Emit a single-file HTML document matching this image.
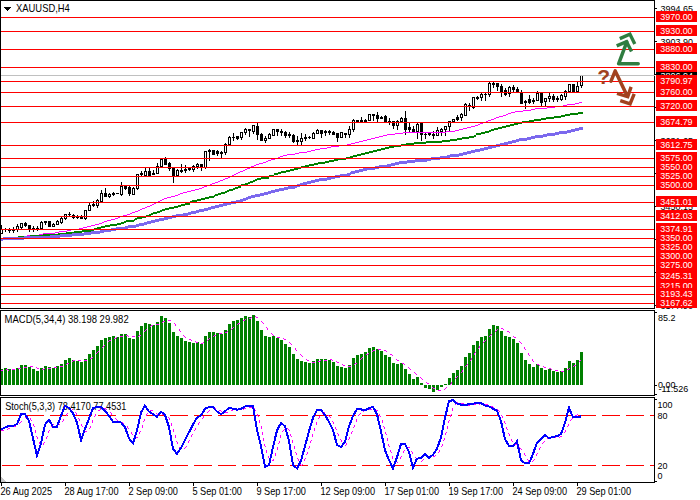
<!DOCTYPE html>
<html><head><meta charset="utf-8"><title>XAUUSD,H4</title>
<style>
html,body{margin:0;padding:0;background:#fff;width:700px;height:500px;overflow:hidden}
svg{display:block}
text{font-family:'Liberation Sans', 'DejaVu Sans', sans-serif;white-space:pre}
rect,polyline,line{shape-rendering:crispEdges}
.aa polyline{shape-rendering:geometricPrecision}
</style></head><body>
<svg width="700" height="500" viewBox="0 0 700 500">
<defs>
<clipPath id="cm"><rect x="1" y="1" width="653" height="307"/></clipPath>
<clipPath id="cmacd"><rect x="1" y="311" width="653" height="84"/></clipPath>
<clipPath id="cst"><rect x="1" y="398" width="653" height="84"/></clipPath>
</defs>
<rect width="700" height="500" fill="#fff"/>
<g clip-path="url(#cm)">
<rect x="1" y="225" width="1" height="9" fill="#000"/>
<rect x="0" y="229" width="3" height="5" fill="#000"/>
<rect x="1" y="230" width="1" height="3" fill="#fff"/>
<rect x="5" y="228" width="1" height="4" fill="#000"/>
<rect x="4" y="229" width="3" height="1" fill="#000"/>
<rect x="9" y="228" width="1" height="5" fill="#000"/>
<rect x="8" y="230" width="3" height="1" fill="#000"/>
<rect x="13" y="227" width="1" height="6" fill="#000"/>
<rect x="12" y="230" width="3" height="1" fill="#000"/>
<rect x="17" y="224" width="1" height="8" fill="#000"/>
<rect x="16" y="226" width="3" height="4" fill="#000"/>
<rect x="17" y="227" width="1" height="2" fill="#fff"/>
<rect x="21" y="223" width="1" height="6" fill="#000"/>
<rect x="20" y="223" width="3" height="5" fill="#000"/>
<rect x="21" y="224" width="1" height="3" fill="#fff"/>
<rect x="25" y="222" width="1" height="5" fill="#000"/>
<rect x="24" y="223" width="3" height="3" fill="#000"/>
<rect x="29" y="225" width="1" height="7" fill="#000"/>
<rect x="28" y="225" width="3" height="5" fill="#000"/>
<rect x="33" y="226" width="1" height="6" fill="#000"/>
<rect x="32" y="228" width="3" height="2" fill="#000"/>
<rect x="37" y="226" width="1" height="5" fill="#000"/>
<rect x="36" y="228" width="3" height="2" fill="#000"/>
<rect x="41" y="221" width="1" height="8" fill="#000"/>
<rect x="40" y="222" width="3" height="7" fill="#000"/>
<rect x="41" y="223" width="1" height="5" fill="#fff"/>
<rect x="45" y="221" width="1" height="4" fill="#000"/>
<rect x="44" y="221" width="3" height="2" fill="#000"/>
<rect x="49" y="221" width="1" height="6" fill="#000"/>
<rect x="48" y="221" width="3" height="6" fill="#000"/>
<rect x="53" y="223" width="1" height="4" fill="#000"/>
<rect x="52" y="224" width="3" height="3" fill="#000"/>
<rect x="53" y="225" width="1" height="1" fill="#fff"/>
<rect x="57" y="220" width="1" height="5" fill="#000"/>
<rect x="56" y="221" width="3" height="4" fill="#000"/>
<rect x="57" y="222" width="1" height="2" fill="#fff"/>
<rect x="61" y="217" width="1" height="7" fill="#000"/>
<rect x="60" y="218" width="3" height="5" fill="#000"/>
<rect x="61" y="219" width="1" height="3" fill="#fff"/>
<rect x="65" y="214" width="1" height="6" fill="#000"/>
<rect x="64" y="214" width="3" height="5" fill="#000"/>
<rect x="65" y="215" width="1" height="3" fill="#fff"/>
<rect x="69" y="212" width="1" height="5" fill="#000"/>
<rect x="68" y="214" width="3" height="1" fill="#000"/>
<rect x="73" y="214" width="1" height="5" fill="#000"/>
<rect x="72" y="215" width="3" height="3" fill="#000"/>
<rect x="77" y="215" width="1" height="4" fill="#000"/>
<rect x="76" y="216" width="3" height="2" fill="#000"/>
<rect x="81" y="215" width="1" height="4" fill="#000"/>
<rect x="80" y="216" width="3" height="3" fill="#000"/>
<rect x="85" y="210" width="1" height="10" fill="#000"/>
<rect x="84" y="210" width="3" height="9" fill="#000"/>
<rect x="85" y="211" width="1" height="7" fill="#fff"/>
<rect x="89" y="203" width="1" height="8" fill="#000"/>
<rect x="88" y="205" width="3" height="6" fill="#000"/>
<rect x="89" y="206" width="1" height="4" fill="#fff"/>
<rect x="93" y="201" width="1" height="6" fill="#000"/>
<rect x="92" y="204" width="3" height="2" fill="#000"/>
<rect x="97" y="199" width="1" height="9" fill="#000"/>
<rect x="96" y="200" width="3" height="6" fill="#000"/>
<rect x="97" y="201" width="1" height="4" fill="#fff"/>
<rect x="101" y="190" width="1" height="13" fill="#000"/>
<rect x="100" y="193" width="3" height="9" fill="#000"/>
<rect x="101" y="194" width="1" height="7" fill="#fff"/>
<rect x="105" y="188" width="1" height="9" fill="#000"/>
<rect x="104" y="193" width="3" height="4" fill="#000"/>
<rect x="109" y="193" width="1" height="5" fill="#000"/>
<rect x="108" y="194" width="3" height="3" fill="#000"/>
<rect x="109" y="195" width="1" height="1" fill="#fff"/>
<rect x="113" y="192" width="1" height="4" fill="#000"/>
<rect x="112" y="193" width="3" height="2" fill="#000"/>
<rect x="117" y="193" width="1" height="1" fill="#000"/>
<rect x="116" y="193" width="3" height="1" fill="#000"/>
<rect x="121" y="182" width="1" height="14" fill="#000"/>
<rect x="120" y="186" width="3" height="9" fill="#000"/>
<rect x="121" y="187" width="1" height="7" fill="#fff"/>
<rect x="125" y="186" width="1" height="4" fill="#000"/>
<rect x="124" y="186" width="3" height="3" fill="#000"/>
<rect x="129" y="186" width="1" height="10" fill="#000"/>
<rect x="128" y="187" width="3" height="7" fill="#000"/>
<rect x="133" y="187" width="1" height="8" fill="#000"/>
<rect x="132" y="188" width="3" height="7" fill="#000"/>
<rect x="133" y="189" width="1" height="5" fill="#fff"/>
<rect x="137" y="174" width="1" height="16" fill="#000"/>
<rect x="136" y="174" width="3" height="15" fill="#000"/>
<rect x="137" y="175" width="1" height="13" fill="#fff"/>
<rect x="141" y="171" width="1" height="6" fill="#000"/>
<rect x="140" y="173" width="3" height="2" fill="#000"/>
<rect x="145" y="168" width="1" height="8" fill="#000"/>
<rect x="144" y="171" width="3" height="5" fill="#000"/>
<rect x="145" y="172" width="1" height="3" fill="#fff"/>
<rect x="149" y="168" width="1" height="9" fill="#000"/>
<rect x="148" y="171" width="3" height="5" fill="#000"/>
<rect x="153" y="170" width="1" height="5" fill="#000"/>
<rect x="152" y="173" width="3" height="2" fill="#000"/>
<rect x="157" y="163" width="1" height="11" fill="#000"/>
<rect x="156" y="166" width="3" height="8" fill="#000"/>
<rect x="157" y="167" width="1" height="6" fill="#fff"/>
<rect x="161" y="159" width="1" height="8" fill="#000"/>
<rect x="160" y="159" width="3" height="8" fill="#000"/>
<rect x="161" y="160" width="1" height="6" fill="#fff"/>
<rect x="165" y="157" width="1" height="8" fill="#000"/>
<rect x="164" y="159" width="3" height="6" fill="#000"/>
<rect x="169" y="162" width="1" height="9" fill="#000"/>
<rect x="168" y="163" width="3" height="6" fill="#000"/>
<rect x="173" y="168" width="1" height="15" fill="#000"/>
<rect x="172" y="168" width="3" height="8" fill="#000"/>
<rect x="177" y="169" width="1" height="7" fill="#000"/>
<rect x="176" y="170" width="3" height="6" fill="#000"/>
<rect x="177" y="171" width="1" height="4" fill="#fff"/>
<rect x="181" y="164" width="1" height="9" fill="#000"/>
<rect x="180" y="170" width="3" height="2" fill="#000"/>
<rect x="185" y="165" width="1" height="8" fill="#000"/>
<rect x="184" y="169" width="3" height="2" fill="#000"/>
<rect x="189" y="167" width="1" height="4" fill="#000"/>
<rect x="188" y="168" width="3" height="2" fill="#000"/>
<rect x="193" y="165" width="1" height="7" fill="#000"/>
<rect x="192" y="166" width="3" height="4" fill="#000"/>
<rect x="193" y="167" width="1" height="2" fill="#fff"/>
<rect x="197" y="163" width="1" height="6" fill="#000"/>
<rect x="196" y="164" width="3" height="3" fill="#000"/>
<rect x="197" y="165" width="1" height="1" fill="#fff"/>
<rect x="201" y="164" width="1" height="7" fill="#000"/>
<rect x="200" y="164" width="3" height="3" fill="#000"/>
<rect x="205" y="151" width="1" height="18" fill="#000"/>
<rect x="204" y="151" width="3" height="17" fill="#000"/>
<rect x="205" y="152" width="1" height="15" fill="#fff"/>
<rect x="209" y="149" width="1" height="12" fill="#000"/>
<rect x="208" y="150" width="3" height="2" fill="#000"/>
<rect x="213" y="150" width="1" height="5" fill="#000"/>
<rect x="212" y="150" width="3" height="5" fill="#000"/>
<rect x="217" y="150" width="1" height="6" fill="#000"/>
<rect x="216" y="151" width="3" height="3" fill="#000"/>
<rect x="221" y="151" width="1" height="7" fill="#000"/>
<rect x="220" y="152" width="3" height="2" fill="#000"/>
<rect x="225" y="143" width="1" height="12" fill="#000"/>
<rect x="224" y="144" width="3" height="9" fill="#000"/>
<rect x="225" y="145" width="1" height="7" fill="#fff"/>
<rect x="229" y="136" width="1" height="10" fill="#000"/>
<rect x="228" y="137" width="3" height="8" fill="#000"/>
<rect x="229" y="138" width="1" height="6" fill="#fff"/>
<rect x="233" y="133" width="1" height="8" fill="#000"/>
<rect x="232" y="137" width="3" height="1" fill="#000"/>
<rect x="237" y="136" width="1" height="4" fill="#000"/>
<rect x="236" y="136" width="3" height="3" fill="#000"/>
<rect x="241" y="132" width="1" height="8" fill="#000"/>
<rect x="240" y="132" width="3" height="6" fill="#000"/>
<rect x="241" y="133" width="1" height="4" fill="#fff"/>
<rect x="245" y="128" width="1" height="7" fill="#000"/>
<rect x="244" y="129" width="3" height="4" fill="#000"/>
<rect x="245" y="130" width="1" height="2" fill="#fff"/>
<rect x="249" y="129" width="1" height="8" fill="#000"/>
<rect x="248" y="129" width="3" height="2" fill="#000"/>
<rect x="253" y="125" width="1" height="9" fill="#000"/>
<rect x="252" y="125" width="3" height="7" fill="#000"/>
<rect x="253" y="126" width="1" height="5" fill="#fff"/>
<rect x="257" y="123" width="1" height="17" fill="#000"/>
<rect x="256" y="126" width="3" height="9" fill="#000"/>
<rect x="261" y="133" width="1" height="8" fill="#000"/>
<rect x="260" y="134" width="3" height="7" fill="#000"/>
<rect x="265" y="136" width="1" height="7" fill="#000"/>
<rect x="264" y="138" width="3" height="3" fill="#000"/>
<rect x="265" y="139" width="1" height="1" fill="#fff"/>
<rect x="269" y="133" width="1" height="6" fill="#000"/>
<rect x="268" y="134" width="3" height="5" fill="#000"/>
<rect x="269" y="135" width="1" height="3" fill="#fff"/>
<rect x="273" y="129" width="1" height="7" fill="#000"/>
<rect x="272" y="129" width="3" height="7" fill="#000"/>
<rect x="273" y="130" width="1" height="5" fill="#fff"/>
<rect x="277" y="129" width="1" height="7" fill="#000"/>
<rect x="276" y="129" width="3" height="3" fill="#000"/>
<rect x="281" y="129" width="1" height="7" fill="#000"/>
<rect x="280" y="131" width="3" height="2" fill="#000"/>
<rect x="285" y="131" width="1" height="7" fill="#000"/>
<rect x="284" y="132" width="3" height="4" fill="#000"/>
<rect x="289" y="132" width="1" height="6" fill="#000"/>
<rect x="288" y="134" width="3" height="2" fill="#000"/>
<rect x="293" y="134" width="1" height="9" fill="#000"/>
<rect x="292" y="135" width="3" height="7" fill="#000"/>
<rect x="297" y="136" width="1" height="10" fill="#000"/>
<rect x="296" y="140" width="3" height="2" fill="#000"/>
<rect x="301" y="133" width="1" height="13" fill="#000"/>
<rect x="300" y="138" width="3" height="4" fill="#000"/>
<rect x="301" y="139" width="1" height="2" fill="#fff"/>
<rect x="305" y="134" width="1" height="7" fill="#000"/>
<rect x="304" y="137" width="3" height="2" fill="#000"/>
<rect x="309" y="136" width="1" height="3" fill="#000"/>
<rect x="308" y="137" width="3" height="1" fill="#000"/>
<rect x="313" y="132" width="1" height="7" fill="#000"/>
<rect x="312" y="133" width="3" height="6" fill="#000"/>
<rect x="313" y="134" width="1" height="4" fill="#fff"/>
<rect x="317" y="129" width="1" height="5" fill="#000"/>
<rect x="316" y="130" width="3" height="4" fill="#000"/>
<rect x="317" y="131" width="1" height="2" fill="#fff"/>
<rect x="321" y="130" width="1" height="8" fill="#000"/>
<rect x="320" y="130" width="3" height="4" fill="#000"/>
<rect x="325" y="130" width="1" height="6" fill="#000"/>
<rect x="324" y="131" width="3" height="2" fill="#000"/>
<rect x="329" y="130" width="1" height="5" fill="#000"/>
<rect x="328" y="131" width="3" height="2" fill="#000"/>
<rect x="333" y="131" width="1" height="4" fill="#000"/>
<rect x="332" y="132" width="3" height="3" fill="#000"/>
<rect x="337" y="133" width="1" height="9" fill="#000"/>
<rect x="336" y="133" width="3" height="5" fill="#000"/>
<rect x="341" y="132" width="1" height="6" fill="#000"/>
<rect x="340" y="132" width="3" height="6" fill="#000"/>
<rect x="341" y="133" width="1" height="4" fill="#fff"/>
<rect x="345" y="133" width="1" height="5" fill="#000"/>
<rect x="344" y="133" width="3" height="2" fill="#000"/>
<rect x="349" y="126" width="1" height="12" fill="#000"/>
<rect x="348" y="129" width="3" height="6" fill="#000"/>
<rect x="349" y="130" width="1" height="4" fill="#fff"/>
<rect x="353" y="119" width="1" height="13" fill="#000"/>
<rect x="352" y="120" width="3" height="10" fill="#000"/>
<rect x="353" y="121" width="1" height="8" fill="#fff"/>
<rect x="357" y="120" width="1" height="3" fill="#000"/>
<rect x="356" y="120" width="3" height="2" fill="#000"/>
<rect x="361" y="117" width="1" height="6" fill="#000"/>
<rect x="360" y="120" width="3" height="2" fill="#000"/>
<rect x="365" y="119" width="1" height="4" fill="#000"/>
<rect x="364" y="120" width="3" height="3" fill="#000"/>
<rect x="369" y="114" width="1" height="7" fill="#000"/>
<rect x="368" y="114" width="3" height="7" fill="#000"/>
<rect x="369" y="115" width="1" height="5" fill="#fff"/>
<rect x="373" y="114" width="1" height="7" fill="#000"/>
<rect x="372" y="114" width="3" height="2" fill="#000"/>
<rect x="377" y="112" width="1" height="11" fill="#000"/>
<rect x="376" y="115" width="3" height="4" fill="#000"/>
<rect x="381" y="116" width="1" height="3" fill="#000"/>
<rect x="380" y="117" width="3" height="2" fill="#000"/>
<rect x="385" y="115" width="1" height="8" fill="#000"/>
<rect x="384" y="116" width="3" height="6" fill="#000"/>
<rect x="389" y="118" width="1" height="7" fill="#000"/>
<rect x="388" y="121" width="3" height="2" fill="#000"/>
<rect x="393" y="121" width="1" height="8" fill="#000"/>
<rect x="392" y="121" width="3" height="5" fill="#000"/>
<rect x="397" y="120" width="1" height="10" fill="#000"/>
<rect x="396" y="121" width="3" height="5" fill="#000"/>
<rect x="397" y="122" width="1" height="3" fill="#fff"/>
<rect x="401" y="117" width="1" height="5" fill="#000"/>
<rect x="400" y="118" width="3" height="4" fill="#000"/>
<rect x="401" y="119" width="1" height="2" fill="#fff"/>
<rect x="405" y="111" width="1" height="24" fill="#000"/>
<rect x="404" y="118" width="3" height="12" fill="#000"/>
<rect x="409" y="123" width="1" height="10" fill="#000"/>
<rect x="408" y="127" width="3" height="3" fill="#000"/>
<rect x="413" y="126" width="1" height="7" fill="#000"/>
<rect x="412" y="129" width="3" height="3" fill="#000"/>
<rect x="417" y="123" width="1" height="16" fill="#000"/>
<rect x="416" y="124" width="3" height="8" fill="#000"/>
<rect x="417" y="125" width="1" height="6" fill="#fff"/>
<rect x="421" y="123" width="1" height="18" fill="#000"/>
<rect x="420" y="123" width="3" height="12" fill="#000"/>
<rect x="425" y="133" width="1" height="6" fill="#000"/>
<rect x="424" y="134" width="3" height="1" fill="#000"/>
<rect x="429" y="133" width="1" height="3" fill="#000"/>
<rect x="428" y="133" width="3" height="2" fill="#000"/>
<rect x="433" y="131" width="1" height="8" fill="#000"/>
<rect x="432" y="134" width="3" height="2" fill="#000"/>
<rect x="437" y="127" width="1" height="9" fill="#000"/>
<rect x="436" y="130" width="3" height="6" fill="#000"/>
<rect x="437" y="131" width="1" height="4" fill="#fff"/>
<rect x="441" y="128" width="1" height="8" fill="#000"/>
<rect x="440" y="129" width="3" height="3" fill="#000"/>
<rect x="441" y="130" width="1" height="1" fill="#fff"/>
<rect x="445" y="126" width="1" height="10" fill="#000"/>
<rect x="444" y="126" width="3" height="4" fill="#000"/>
<rect x="445" y="127" width="1" height="2" fill="#fff"/>
<rect x="449" y="121" width="1" height="10" fill="#000"/>
<rect x="448" y="121" width="3" height="6" fill="#000"/>
<rect x="449" y="122" width="1" height="4" fill="#fff"/>
<rect x="453" y="119" width="1" height="4" fill="#000"/>
<rect x="452" y="119" width="3" height="3" fill="#000"/>
<rect x="453" y="120" width="1" height="1" fill="#fff"/>
<rect x="457" y="115" width="1" height="6" fill="#000"/>
<rect x="456" y="117" width="3" height="3" fill="#000"/>
<rect x="461" y="113" width="1" height="8" fill="#000"/>
<rect x="460" y="114" width="3" height="4" fill="#000"/>
<rect x="461" y="115" width="1" height="2" fill="#fff"/>
<rect x="465" y="103" width="1" height="13" fill="#000"/>
<rect x="464" y="104" width="3" height="12" fill="#000"/>
<rect x="465" y="105" width="1" height="10" fill="#fff"/>
<rect x="469" y="103" width="1" height="8" fill="#000"/>
<rect x="468" y="105" width="3" height="2" fill="#000"/>
<rect x="473" y="97" width="1" height="12" fill="#000"/>
<rect x="472" y="97" width="3" height="11" fill="#000"/>
<rect x="473" y="98" width="1" height="9" fill="#fff"/>
<rect x="477" y="96" width="1" height="4" fill="#000"/>
<rect x="476" y="97" width="3" height="2" fill="#000"/>
<rect x="481" y="93" width="1" height="8" fill="#000"/>
<rect x="480" y="94" width="3" height="4" fill="#000"/>
<rect x="481" y="95" width="1" height="2" fill="#fff"/>
<rect x="485" y="93" width="1" height="8" fill="#000"/>
<rect x="484" y="94" width="3" height="1" fill="#000"/>
<rect x="489" y="82" width="1" height="15" fill="#000"/>
<rect x="488" y="83" width="3" height="12" fill="#000"/>
<rect x="489" y="84" width="1" height="10" fill="#fff"/>
<rect x="493" y="82" width="1" height="6" fill="#000"/>
<rect x="492" y="83" width="3" height="2" fill="#000"/>
<rect x="497" y="83" width="1" height="8" fill="#000"/>
<rect x="496" y="83" width="3" height="4" fill="#000"/>
<rect x="501" y="84" width="1" height="13" fill="#000"/>
<rect x="500" y="86" width="3" height="7" fill="#000"/>
<rect x="505" y="88" width="1" height="8" fill="#000"/>
<rect x="504" y="90" width="3" height="5" fill="#000"/>
<rect x="509" y="86" width="1" height="11" fill="#000"/>
<rect x="508" y="87" width="3" height="7" fill="#000"/>
<rect x="509" y="88" width="1" height="5" fill="#fff"/>
<rect x="513" y="85" width="1" height="8" fill="#000"/>
<rect x="512" y="87" width="3" height="3" fill="#000"/>
<rect x="517" y="87" width="1" height="6" fill="#000"/>
<rect x="516" y="89" width="3" height="3" fill="#000"/>
<rect x="521" y="90" width="1" height="14" fill="#000"/>
<rect x="520" y="93" width="3" height="11" fill="#000"/>
<rect x="525" y="100" width="1" height="9" fill="#000"/>
<rect x="524" y="101" width="3" height="2" fill="#000"/>
<rect x="529" y="95" width="1" height="9" fill="#000"/>
<rect x="528" y="99" width="3" height="4" fill="#000"/>
<rect x="533" y="98" width="1" height="6" fill="#000"/>
<rect x="532" y="100" width="3" height="2" fill="#000"/>
<rect x="537" y="91" width="1" height="10" fill="#000"/>
<rect x="536" y="93" width="3" height="8" fill="#000"/>
<rect x="537" y="94" width="1" height="6" fill="#fff"/>
<rect x="541" y="93" width="1" height="14" fill="#000"/>
<rect x="540" y="93" width="3" height="10" fill="#000"/>
<rect x="545" y="98" width="1" height="9" fill="#000"/>
<rect x="544" y="98" width="3" height="4" fill="#000"/>
<rect x="545" y="99" width="1" height="2" fill="#fff"/>
<rect x="549" y="93" width="1" height="9" fill="#000"/>
<rect x="548" y="96" width="3" height="3" fill="#000"/>
<rect x="549" y="97" width="1" height="1" fill="#fff"/>
<rect x="553" y="94" width="1" height="8" fill="#000"/>
<rect x="552" y="96" width="3" height="4" fill="#000"/>
<rect x="557" y="96" width="1" height="6" fill="#000"/>
<rect x="556" y="98" width="3" height="2" fill="#000"/>
<rect x="561" y="94" width="1" height="7" fill="#000"/>
<rect x="560" y="95" width="3" height="5" fill="#000"/>
<rect x="561" y="96" width="1" height="3" fill="#fff"/>
<rect x="565" y="90" width="1" height="10" fill="#000"/>
<rect x="564" y="91" width="3" height="6" fill="#000"/>
<rect x="565" y="92" width="1" height="4" fill="#fff"/>
<rect x="569" y="84" width="1" height="9" fill="#000"/>
<rect x="568" y="84" width="3" height="8" fill="#000"/>
<rect x="569" y="85" width="1" height="6" fill="#fff"/>
<rect x="573" y="84" width="1" height="8" fill="#000"/>
<rect x="572" y="84" width="3" height="8" fill="#000"/>
<rect x="577" y="82" width="1" height="10" fill="#000"/>
<rect x="576" y="86" width="3" height="6" fill="#000"/>
<rect x="577" y="87" width="1" height="4" fill="#fff"/>
<rect x="581" y="75" width="1" height="13" fill="#000"/>
<rect x="580" y="75" width="3" height="11" fill="#000"/>
<rect x="581" y="76" width="1" height="9" fill="#fff"/>
<rect x="3" y="237" width="22" height="1" fill="#FF00FF"/>
<rect x="25" y="236" width="2" height="1" fill="#FF00FF"/>
<rect x="27" y="235" width="12" height="1" fill="#FF00FF"/>
<rect x="39" y="234" width="4" height="1" fill="#FF00FF"/>
<rect x="43" y="233" width="12" height="1" fill="#FF00FF"/>
<rect x="55" y="232" width="4" height="1" fill="#FF00FF"/>
<rect x="59" y="231" width="8" height="1" fill="#FF00FF"/>
<rect x="67" y="230" width="4" height="1" fill="#FF00FF"/>
<rect x="71" y="229" width="8" height="1" fill="#FF00FF"/>
<rect x="79" y="228" width="4" height="1" fill="#FF00FF"/>
<rect x="83" y="227" width="4" height="1" fill="#FF00FF"/>
<rect x="87" y="226" width="4" height="1" fill="#FF00FF"/>
<rect x="91" y="225" width="4" height="1" fill="#FF00FF"/>
<rect x="95" y="224" width="4" height="1" fill="#FF00FF"/>
<rect x="99" y="223" width="3" height="1" fill="#FF00FF"/>
<rect x="102" y="222" width="2" height="1" fill="#FF00FF"/>
<rect x="104" y="221" width="3" height="1" fill="#FF00FF"/>
<rect x="107" y="220" width="4" height="1" fill="#FF00FF"/>
<rect x="111" y="219" width="4" height="1" fill="#FF00FF"/>
<rect x="115" y="218" width="3" height="1" fill="#FF00FF"/>
<rect x="118" y="217" width="2" height="1" fill="#FF00FF"/>
<rect x="120" y="216" width="3" height="1" fill="#FF00FF"/>
<rect x="123" y="215" width="4" height="1" fill="#FF00FF"/>
<rect x="127" y="214" width="3" height="1" fill="#FF00FF"/>
<rect x="130" y="213" width="2" height="1" fill="#FF00FF"/>
<rect x="132" y="212" width="3" height="1" fill="#FF00FF"/>
<rect x="135" y="211" width="3" height="1" fill="#FF00FF"/>
<rect x="138" y="210" width="2" height="1" fill="#FF00FF"/>
<rect x="140" y="209" width="2" height="1" fill="#FF00FF"/>
<rect x="142" y="208" width="3" height="1" fill="#FF00FF"/>
<rect x="145" y="207" width="2" height="1" fill="#FF00FF"/>
<rect x="147" y="206" width="3" height="1" fill="#FF00FF"/>
<rect x="150" y="205" width="2" height="1" fill="#FF00FF"/>
<rect x="152" y="204" width="2" height="1" fill="#FF00FF"/>
<rect x="154" y="203" width="2" height="1" fill="#FF00FF"/>
<rect x="156" y="202" width="2" height="1" fill="#FF00FF"/>
<rect x="158" y="201" width="2" height="1" fill="#FF00FF"/>
<rect x="160" y="200" width="2" height="1" fill="#FF00FF"/>
<rect x="162" y="199" width="2" height="1" fill="#FF00FF"/>
<rect x="164" y="198" width="3" height="1" fill="#FF00FF"/>
<rect x="167" y="197" width="4" height="1" fill="#FF00FF"/>
<rect x="171" y="196" width="4" height="1" fill="#FF00FF"/>
<rect x="175" y="195" width="3" height="1" fill="#FF00FF"/>
<rect x="178" y="194" width="2" height="1" fill="#FF00FF"/>
<rect x="180" y="193" width="3" height="1" fill="#FF00FF"/>
<rect x="183" y="192" width="4" height="1" fill="#FF00FF"/>
<rect x="187" y="191" width="4" height="1" fill="#FF00FF"/>
<rect x="191" y="190" width="4" height="1" fill="#FF00FF"/>
<rect x="195" y="189" width="4" height="1" fill="#FF00FF"/>
<rect x="199" y="188" width="3" height="1" fill="#FF00FF"/>
<rect x="202" y="187" width="2" height="1" fill="#FF00FF"/>
<rect x="204" y="186" width="3" height="1" fill="#FF00FF"/>
<rect x="207" y="185" width="3" height="1" fill="#FF00FF"/>
<rect x="210" y="184" width="2" height="1" fill="#FF00FF"/>
<rect x="212" y="183" width="3" height="1" fill="#FF00FF"/>
<rect x="215" y="182" width="3" height="1" fill="#FF00FF"/>
<rect x="218" y="181" width="2" height="1" fill="#FF00FF"/>
<rect x="220" y="180" width="3" height="1" fill="#FF00FF"/>
<rect x="223" y="179" width="2" height="1" fill="#FF00FF"/>
<rect x="225" y="178" width="3" height="1" fill="#FF00FF"/>
<rect x="228" y="177" width="2" height="1" fill="#FF00FF"/>
<rect x="230" y="176" width="2" height="1" fill="#FF00FF"/>
<rect x="232" y="175" width="2" height="1" fill="#FF00FF"/>
<rect x="234" y="174" width="2" height="1" fill="#FF00FF"/>
<rect x="236" y="173" width="2" height="1" fill="#FF00FF"/>
<rect x="238" y="172" width="2" height="1" fill="#FF00FF"/>
<rect x="240" y="171" width="3" height="1" fill="#FF00FF"/>
<rect x="243" y="170" width="2" height="1" fill="#FF00FF"/>
<rect x="245" y="169" width="2" height="1" fill="#FF00FF"/>
<rect x="247" y="168" width="3" height="1" fill="#FF00FF"/>
<rect x="250" y="167" width="1" height="1" fill="#FF00FF"/>
<rect x="251" y="166" width="3" height="1" fill="#FF00FF"/>
<rect x="254" y="165" width="2" height="1" fill="#FF00FF"/>
<rect x="256" y="164" width="3" height="1" fill="#FF00FF"/>
<rect x="259" y="163" width="4" height="1" fill="#FF00FF"/>
<rect x="263" y="162" width="3" height="1" fill="#FF00FF"/>
<rect x="266" y="161" width="2" height="1" fill="#FF00FF"/>
<rect x="268" y="160" width="3" height="1" fill="#FF00FF"/>
<rect x="271" y="159" width="4" height="1" fill="#FF00FF"/>
<rect x="275" y="158" width="3" height="1" fill="#FF00FF"/>
<rect x="278" y="157" width="2" height="1" fill="#FF00FF"/>
<rect x="280" y="156" width="3" height="1" fill="#FF00FF"/>
<rect x="283" y="155" width="4" height="1" fill="#FF00FF"/>
<rect x="287" y="154" width="8" height="1" fill="#FF00FF"/>
<rect x="295" y="153" width="4" height="1" fill="#FF00FF"/>
<rect x="299" y="152" width="8" height="1" fill="#FF00FF"/>
<rect x="307" y="151" width="4" height="1" fill="#FF00FF"/>
<rect x="311" y="150" width="4" height="1" fill="#FF00FF"/>
<rect x="315" y="149" width="5" height="1" fill="#FF00FF"/>
<rect x="320" y="148" width="7" height="1" fill="#FF00FF"/>
<rect x="327" y="147" width="4" height="1" fill="#FF00FF"/>
<rect x="331" y="146" width="8" height="1" fill="#FF00FF"/>
<rect x="339" y="145" width="8" height="1" fill="#FF00FF"/>
<rect x="347" y="144" width="4" height="1" fill="#FF00FF"/>
<rect x="351" y="143" width="4" height="1" fill="#FF00FF"/>
<rect x="355" y="142" width="4" height="1" fill="#FF00FF"/>
<rect x="359" y="141" width="4" height="1" fill="#FF00FF"/>
<rect x="363" y="140" width="4" height="1" fill="#FF00FF"/>
<rect x="367" y="139" width="4" height="1" fill="#FF00FF"/>
<rect x="371" y="138" width="4" height="1" fill="#FF00FF"/>
<rect x="375" y="137" width="4" height="1" fill="#FF00FF"/>
<rect x="379" y="136" width="4" height="1" fill="#FF00FF"/>
<rect x="383" y="135" width="4" height="1" fill="#FF00FF"/>
<rect x="387" y="134" width="8" height="1" fill="#FF00FF"/>
<rect x="395" y="133" width="8" height="1" fill="#FF00FF"/>
<rect x="403" y="132" width="43" height="1" fill="#FF00FF"/>
<rect x="446" y="131" width="9" height="1" fill="#FF00FF"/>
<rect x="455" y="130" width="4" height="1" fill="#FF00FF"/>
<rect x="459" y="129" width="4" height="1" fill="#FF00FF"/>
<rect x="463" y="128" width="4" height="1" fill="#FF00FF"/>
<rect x="467" y="127" width="4" height="1" fill="#FF00FF"/>
<rect x="471" y="126" width="4" height="1" fill="#FF00FF"/>
<rect x="475" y="125" width="3" height="1" fill="#FF00FF"/>
<rect x="478" y="124" width="2" height="1" fill="#FF00FF"/>
<rect x="480" y="123" width="3" height="1" fill="#FF00FF"/>
<rect x="483" y="122" width="3" height="1" fill="#FF00FF"/>
<rect x="486" y="121" width="2" height="1" fill="#FF00FF"/>
<rect x="488" y="120" width="3" height="1" fill="#FF00FF"/>
<rect x="491" y="119" width="3" height="1" fill="#FF00FF"/>
<rect x="494" y="118" width="2" height="1" fill="#FF00FF"/>
<rect x="496" y="117" width="3" height="1" fill="#FF00FF"/>
<rect x="499" y="116" width="4" height="1" fill="#FF00FF"/>
<rect x="503" y="115" width="3" height="1" fill="#FF00FF"/>
<rect x="506" y="114" width="2" height="1" fill="#FF00FF"/>
<rect x="508" y="113" width="3" height="1" fill="#FF00FF"/>
<rect x="511" y="112" width="4" height="1" fill="#FF00FF"/>
<rect x="515" y="111" width="8" height="1" fill="#FF00FF"/>
<rect x="523" y="110" width="8" height="1" fill="#FF00FF"/>
<rect x="531" y="109" width="4" height="1" fill="#FF00FF"/>
<rect x="535" y="108" width="12" height="1" fill="#FF00FF"/>
<rect x="547" y="107" width="8" height="1" fill="#FF00FF"/>
<rect x="555" y="106" width="8" height="1" fill="#FF00FF"/>
<rect x="563" y="105" width="4" height="1" fill="#FF00FF"/>
<rect x="567" y="104" width="8" height="1" fill="#FF00FF"/>
<rect x="575" y="103" width="4" height="1" fill="#FF00FF"/>
<rect x="579" y="102" width="3" height="1" fill="#FF00FF"/>
<rect x="3" y="237" width="15" height="2" fill="#008000"/>
<rect x="18" y="236" width="12" height="2" fill="#008000"/>
<rect x="30" y="235" width="13" height="2" fill="#008000"/>
<rect x="43" y="234" width="15" height="2" fill="#008000"/>
<rect x="58" y="233" width="8" height="2" fill="#008000"/>
<rect x="66" y="232" width="8" height="2" fill="#008000"/>
<rect x="74" y="231" width="8" height="2" fill="#008000"/>
<rect x="82" y="230" width="12" height="2" fill="#008000"/>
<rect x="94" y="228" width="3" height="2" fill="#008000"/>
<rect x="97" y="227" width="4" height="2" fill="#008000"/>
<rect x="101" y="226" width="4" height="2" fill="#008000"/>
<rect x="105" y="225" width="5" height="2" fill="#008000"/>
<rect x="110" y="224" width="7" height="2" fill="#008000"/>
<rect x="117" y="223" width="4" height="2" fill="#008000"/>
<rect x="121" y="222" width="3" height="2" fill="#008000"/>
<rect x="124" y="221" width="2" height="2" fill="#008000"/>
<rect x="126" y="220" width="8" height="2" fill="#008000"/>
<rect x="134" y="219" width="1" height="2" fill="#008000"/>
<rect x="135" y="218" width="2" height="2" fill="#008000"/>
<rect x="137" y="217" width="5" height="2" fill="#008000"/>
<rect x="142" y="216" width="4" height="2" fill="#008000"/>
<rect x="146" y="215" width="3" height="2" fill="#008000"/>
<rect x="149" y="214" width="2" height="2" fill="#008000"/>
<rect x="151" y="213" width="2" height="2" fill="#008000"/>
<rect x="153" y="212" width="4" height="2" fill="#008000"/>
<rect x="157" y="211" width="3" height="2" fill="#008000"/>
<rect x="160" y="210" width="2" height="2" fill="#008000"/>
<rect x="162" y="209" width="3" height="2" fill="#008000"/>
<rect x="165" y="208" width="4" height="2" fill="#008000"/>
<rect x="169" y="207" width="5" height="2" fill="#008000"/>
<rect x="174" y="206" width="4" height="2" fill="#008000"/>
<rect x="178" y="205" width="3" height="2" fill="#008000"/>
<rect x="181" y="204" width="4" height="2" fill="#008000"/>
<rect x="185" y="203" width="5" height="2" fill="#008000"/>
<rect x="190" y="201" width="2" height="2" fill="#008000"/>
<rect x="192" y="200" width="5" height="2" fill="#008000"/>
<rect x="197" y="199" width="4" height="2" fill="#008000"/>
<rect x="201" y="198" width="4" height="2" fill="#008000"/>
<rect x="205" y="197" width="4" height="2" fill="#008000"/>
<rect x="209" y="196" width="5" height="2" fill="#008000"/>
<rect x="214" y="195" width="1" height="2" fill="#008000"/>
<rect x="215" y="194" width="3" height="2" fill="#008000"/>
<rect x="218" y="193" width="3" height="2" fill="#008000"/>
<rect x="221" y="192" width="4" height="2" fill="#008000"/>
<rect x="225" y="191" width="2" height="2" fill="#008000"/>
<rect x="227" y="190" width="2" height="2" fill="#008000"/>
<rect x="229" y="189" width="4" height="2" fill="#008000"/>
<rect x="233" y="188" width="2" height="2" fill="#008000"/>
<rect x="235" y="187" width="3" height="2" fill="#008000"/>
<rect x="238" y="186" width="3" height="2" fill="#008000"/>
<rect x="241" y="184" width="4" height="2" fill="#008000"/>
<rect x="245" y="183" width="3" height="2" fill="#008000"/>
<rect x="248" y="182" width="2" height="2" fill="#008000"/>
<rect x="250" y="181" width="3" height="2" fill="#008000"/>
<rect x="253" y="180" width="2" height="2" fill="#008000"/>
<rect x="255" y="179" width="2" height="2" fill="#008000"/>
<rect x="257" y="178" width="4" height="2" fill="#008000"/>
<rect x="261" y="177" width="8" height="2" fill="#008000"/>
<rect x="269" y="175" width="5" height="2" fill="#008000"/>
<rect x="274" y="173" width="4" height="2" fill="#008000"/>
<rect x="278" y="172" width="3" height="2" fill="#008000"/>
<rect x="281" y="171" width="5" height="2" fill="#008000"/>
<rect x="286" y="170" width="4" height="2" fill="#008000"/>
<rect x="290" y="169" width="4" height="2" fill="#008000"/>
<rect x="294" y="168" width="4" height="2" fill="#008000"/>
<rect x="298" y="167" width="3" height="2" fill="#008000"/>
<rect x="301" y="166" width="4" height="2" fill="#008000"/>
<rect x="305" y="165" width="4" height="2" fill="#008000"/>
<rect x="309" y="164" width="5" height="2" fill="#008000"/>
<rect x="314" y="163" width="4" height="2" fill="#008000"/>
<rect x="318" y="162" width="7" height="2" fill="#008000"/>
<rect x="325" y="161" width="4" height="2" fill="#008000"/>
<rect x="329" y="160" width="5" height="2" fill="#008000"/>
<rect x="334" y="159" width="4" height="2" fill="#008000"/>
<rect x="338" y="158" width="8" height="2" fill="#008000"/>
<rect x="346" y="157" width="4" height="2" fill="#008000"/>
<rect x="350" y="156" width="3" height="2" fill="#008000"/>
<rect x="353" y="155" width="4" height="2" fill="#008000"/>
<rect x="357" y="154" width="4" height="2" fill="#008000"/>
<rect x="361" y="153" width="4" height="2" fill="#008000"/>
<rect x="365" y="152" width="4" height="2" fill="#008000"/>
<rect x="369" y="151" width="4" height="2" fill="#008000"/>
<rect x="373" y="150" width="4" height="2" fill="#008000"/>
<rect x="377" y="149" width="4" height="2" fill="#008000"/>
<rect x="381" y="148" width="4" height="2" fill="#008000"/>
<rect x="385" y="147" width="4" height="2" fill="#008000"/>
<rect x="389" y="146" width="5" height="2" fill="#008000"/>
<rect x="394" y="145" width="7" height="2" fill="#008000"/>
<rect x="401" y="144" width="5" height="2" fill="#008000"/>
<rect x="406" y="143" width="8" height="2" fill="#008000"/>
<rect x="414" y="142" width="12" height="2" fill="#008000"/>
<rect x="426" y="141" width="16" height="2" fill="#008000"/>
<rect x="442" y="140" width="8" height="2" fill="#008000"/>
<rect x="450" y="139" width="7" height="2" fill="#008000"/>
<rect x="457" y="138" width="5" height="2" fill="#008000"/>
<rect x="462" y="137" width="7" height="2" fill="#008000"/>
<rect x="469" y="136" width="5" height="2" fill="#008000"/>
<rect x="474" y="135" width="2" height="2" fill="#008000"/>
<rect x="476" y="133" width="5" height="2" fill="#008000"/>
<rect x="481" y="132" width="4" height="2" fill="#008000"/>
<rect x="485" y="131" width="4" height="2" fill="#008000"/>
<rect x="489" y="130" width="2" height="2" fill="#008000"/>
<rect x="491" y="129" width="3" height="2" fill="#008000"/>
<rect x="494" y="128" width="4" height="2" fill="#008000"/>
<rect x="498" y="127" width="4" height="2" fill="#008000"/>
<rect x="502" y="126" width="4" height="2" fill="#008000"/>
<rect x="506" y="125" width="4" height="2" fill="#008000"/>
<rect x="510" y="124" width="4" height="2" fill="#008000"/>
<rect x="514" y="123" width="4" height="2" fill="#008000"/>
<rect x="518" y="122" width="4" height="2" fill="#008000"/>
<rect x="522" y="121" width="7" height="2" fill="#008000"/>
<rect x="529" y="120" width="5" height="2" fill="#008000"/>
<rect x="534" y="119" width="7" height="2" fill="#008000"/>
<rect x="541" y="118" width="5" height="2" fill="#008000"/>
<rect x="546" y="117" width="8" height="2" fill="#008000"/>
<rect x="554" y="116" width="7" height="2" fill="#008000"/>
<rect x="561" y="115" width="4" height="2" fill="#008000"/>
<rect x="565" y="114" width="5" height="2" fill="#008000"/>
<rect x="570" y="113" width="8" height="2" fill="#008000"/>
<rect x="578" y="112" width="5" height="2" fill="#008000"/>
<rect x="1" y="238" width="2" height="3" fill="#7B68EE"/>
<rect x="3" y="237" width="21" height="3" fill="#7B68EE"/>
<rect x="24" y="236" width="26" height="3" fill="#7B68EE"/>
<rect x="50" y="235" width="10" height="3" fill="#7B68EE"/>
<rect x="60" y="234" width="12" height="3" fill="#7B68EE"/>
<rect x="72" y="233" width="12" height="3" fill="#7B68EE"/>
<rect x="84" y="232" width="7" height="3" fill="#7B68EE"/>
<rect x="91" y="231" width="9" height="3" fill="#7B68EE"/>
<rect x="100" y="230" width="4" height="3" fill="#7B68EE"/>
<rect x="104" y="229" width="7" height="3" fill="#7B68EE"/>
<rect x="111" y="228" width="5" height="3" fill="#7B68EE"/>
<rect x="116" y="227" width="9" height="3" fill="#7B68EE"/>
<rect x="125" y="226" width="3" height="3" fill="#7B68EE"/>
<rect x="128" y="225" width="8" height="3" fill="#7B68EE"/>
<rect x="136" y="224" width="3" height="3" fill="#7B68EE"/>
<rect x="139" y="223" width="5" height="3" fill="#7B68EE"/>
<rect x="144" y="222" width="3" height="3" fill="#7B68EE"/>
<rect x="147" y="221" width="4" height="3" fill="#7B68EE"/>
<rect x="151" y="220" width="4" height="3" fill="#7B68EE"/>
<rect x="155" y="219" width="4" height="3" fill="#7B68EE"/>
<rect x="159" y="218" width="5" height="3" fill="#7B68EE"/>
<rect x="164" y="217" width="4" height="3" fill="#7B68EE"/>
<rect x="168" y="216" width="4" height="3" fill="#7B68EE"/>
<rect x="172" y="215" width="4" height="3" fill="#7B68EE"/>
<rect x="176" y="214" width="7" height="3" fill="#7B68EE"/>
<rect x="183" y="213" width="5" height="3" fill="#7B68EE"/>
<rect x="188" y="212" width="3" height="3" fill="#7B68EE"/>
<rect x="191" y="211" width="5" height="3" fill="#7B68EE"/>
<rect x="196" y="210" width="3" height="3" fill="#7B68EE"/>
<rect x="199" y="209" width="5" height="3" fill="#7B68EE"/>
<rect x="204" y="208" width="4" height="3" fill="#7B68EE"/>
<rect x="208" y="207" width="3" height="3" fill="#7B68EE"/>
<rect x="211" y="206" width="4" height="3" fill="#7B68EE"/>
<rect x="215" y="205" width="4" height="3" fill="#7B68EE"/>
<rect x="219" y="204" width="4" height="3" fill="#7B68EE"/>
<rect x="223" y="203" width="4" height="3" fill="#7B68EE"/>
<rect x="227" y="202" width="4" height="3" fill="#7B68EE"/>
<rect x="231" y="201" width="5" height="3" fill="#7B68EE"/>
<rect x="236" y="200" width="4" height="3" fill="#7B68EE"/>
<rect x="240" y="199" width="3" height="3" fill="#7B68EE"/>
<rect x="243" y="198" width="3" height="3" fill="#7B68EE"/>
<rect x="246" y="197" width="2" height="3" fill="#7B68EE"/>
<rect x="248" y="196" width="3" height="3" fill="#7B68EE"/>
<rect x="251" y="195" width="4" height="3" fill="#7B68EE"/>
<rect x="255" y="194" width="5" height="3" fill="#7B68EE"/>
<rect x="260" y="193" width="4" height="3" fill="#7B68EE"/>
<rect x="264" y="192" width="4" height="3" fill="#7B68EE"/>
<rect x="268" y="191" width="3" height="3" fill="#7B68EE"/>
<rect x="271" y="190" width="4" height="3" fill="#7B68EE"/>
<rect x="275" y="189" width="4" height="3" fill="#7B68EE"/>
<rect x="279" y="188" width="5" height="3" fill="#7B68EE"/>
<rect x="284" y="187" width="4" height="3" fill="#7B68EE"/>
<rect x="288" y="186" width="7" height="3" fill="#7B68EE"/>
<rect x="295" y="185" width="2" height="3" fill="#7B68EE"/>
<rect x="297" y="184" width="3" height="3" fill="#7B68EE"/>
<rect x="300" y="183" width="3" height="3" fill="#7B68EE"/>
<rect x="303" y="182" width="4" height="3" fill="#7B68EE"/>
<rect x="307" y="181" width="4" height="3" fill="#7B68EE"/>
<rect x="311" y="180" width="4" height="3" fill="#7B68EE"/>
<rect x="315" y="179" width="4" height="3" fill="#7B68EE"/>
<rect x="319" y="178" width="8" height="3" fill="#7B68EE"/>
<rect x="327" y="177" width="4" height="3" fill="#7B68EE"/>
<rect x="331" y="176" width="4" height="3" fill="#7B68EE"/>
<rect x="335" y="175" width="5" height="3" fill="#7B68EE"/>
<rect x="340" y="174" width="7" height="3" fill="#7B68EE"/>
<rect x="347" y="173" width="3" height="3" fill="#7B68EE"/>
<rect x="350" y="172" width="1" height="3" fill="#7B68EE"/>
<rect x="351" y="171" width="4" height="3" fill="#7B68EE"/>
<rect x="355" y="170" width="4" height="3" fill="#7B68EE"/>
<rect x="359" y="169" width="4" height="3" fill="#7B68EE"/>
<rect x="363" y="168" width="4" height="3" fill="#7B68EE"/>
<rect x="367" y="167" width="8" height="3" fill="#7B68EE"/>
<rect x="375" y="166" width="4" height="3" fill="#7B68EE"/>
<rect x="379" y="165" width="8" height="3" fill="#7B68EE"/>
<rect x="387" y="164" width="4" height="3" fill="#7B68EE"/>
<rect x="391" y="163" width="4" height="3" fill="#7B68EE"/>
<rect x="395" y="162" width="4" height="3" fill="#7B68EE"/>
<rect x="399" y="161" width="8" height="3" fill="#7B68EE"/>
<rect x="407" y="160" width="8" height="3" fill="#7B68EE"/>
<rect x="415" y="159" width="12" height="3" fill="#7B68EE"/>
<rect x="427" y="158" width="4" height="3" fill="#7B68EE"/>
<rect x="431" y="157" width="9" height="3" fill="#7B68EE"/>
<rect x="440" y="156" width="7" height="3" fill="#7B68EE"/>
<rect x="447" y="155" width="3" height="3" fill="#7B68EE"/>
<rect x="450" y="154" width="9" height="3" fill="#7B68EE"/>
<rect x="459" y="153" width="4" height="3" fill="#7B68EE"/>
<rect x="463" y="152" width="4" height="3" fill="#7B68EE"/>
<rect x="467" y="151" width="4" height="3" fill="#7B68EE"/>
<rect x="471" y="150" width="4" height="3" fill="#7B68EE"/>
<rect x="475" y="149" width="5" height="3" fill="#7B68EE"/>
<rect x="480" y="148" width="4" height="3" fill="#7B68EE"/>
<rect x="484" y="147" width="4" height="3" fill="#7B68EE"/>
<rect x="488" y="146" width="4" height="3" fill="#7B68EE"/>
<rect x="492" y="145" width="4" height="3" fill="#7B68EE"/>
<rect x="496" y="144" width="4" height="3" fill="#7B68EE"/>
<rect x="500" y="143" width="4" height="3" fill="#7B68EE"/>
<rect x="504" y="142" width="4" height="3" fill="#7B68EE"/>
<rect x="508" y="141" width="4" height="3" fill="#7B68EE"/>
<rect x="512" y="140" width="4" height="3" fill="#7B68EE"/>
<rect x="516" y="139" width="3" height="3" fill="#7B68EE"/>
<rect x="519" y="138" width="8" height="3" fill="#7B68EE"/>
<rect x="527" y="137" width="4" height="3" fill="#7B68EE"/>
<rect x="531" y="136" width="4" height="3" fill="#7B68EE"/>
<rect x="535" y="135" width="8" height="3" fill="#7B68EE"/>
<rect x="543" y="134" width="4" height="3" fill="#7B68EE"/>
<rect x="547" y="133" width="8" height="3" fill="#7B68EE"/>
<rect x="555" y="132" width="4" height="3" fill="#7B68EE"/>
<rect x="559" y="131" width="8" height="3" fill="#7B68EE"/>
<rect x="567" y="130" width="4" height="3" fill="#7B68EE"/>
<rect x="571" y="129" width="4" height="3" fill="#7B68EE"/>
<rect x="575" y="128" width="4" height="3" fill="#7B68EE"/>
<rect x="579" y="127" width="4" height="3" fill="#7B68EE"/>
</g>
<rect x="1" y="75" width="654" height="1" fill="#C0C0C0"/>
<rect x="1" y="17" width="653" height="1" fill="#FF0000"/>
<rect x="1" y="31" width="653" height="1" fill="#FF0000"/>
<rect x="1" y="49" width="653" height="1" fill="#FF0000"/>
<rect x="1" y="67" width="653" height="1" fill="#FF0000"/>
<rect x="1" y="81" width="653" height="1" fill="#FF0000"/>
<rect x="1" y="92" width="653" height="1" fill="#FF0000"/>
<rect x="1" y="106" width="653" height="1" fill="#FF0000"/>
<rect x="1" y="122" width="653" height="1" fill="#FF0000"/>
<rect x="1" y="145" width="653" height="1" fill="#FF0000"/>
<rect x="1" y="158" width="653" height="1" fill="#FF0000"/>
<rect x="1" y="167" width="653" height="1" fill="#FF0000"/>
<rect x="1" y="176" width="653" height="1" fill="#FF0000"/>
<rect x="1" y="185" width="653" height="1" fill="#FF0000"/>
<rect x="1" y="202" width="653" height="1" fill="#FF0000"/>
<rect x="1" y="216" width="653" height="1" fill="#FF0000"/>
<rect x="1" y="229" width="653" height="1" fill="#FF0000"/>
<rect x="1" y="238" width="653" height="1" fill="#FF0000"/>
<rect x="1" y="247" width="653" height="1" fill="#FF0000"/>
<rect x="1" y="256" width="653" height="1" fill="#FF0000"/>
<rect x="1" y="265" width="653" height="1" fill="#FF0000"/>
<rect x="1" y="276" width="653" height="1" fill="#FF0000"/>
<rect x="1" y="286" width="653" height="1" fill="#FF0000"/>
<rect x="1" y="294" width="653" height="1" fill="#FF0000"/>
<rect x="1" y="303" width="653" height="1" fill="#FF0000"/>
<g class="aa" fill="none" stroke-linecap="butt" stroke-linejoin="miter">
<polyline points="638.2,63.8 618.6,63.8 626.8,41.8" stroke="#2F7D40" stroke-width="3.5" stroke-linecap="round" stroke-linejoin="round"/>
<polyline points="616.7,45.9 626.5,41.7 631.5,51.5" stroke="#2F7D40" stroke-width="3.4"/>
<polyline points="619.8,38.6 629.9,34.1 634.8,44" stroke="#2F7D40" stroke-width="3.4"/>
<polyline points="611,81.2 615.2,70.9 627.4,96.2" stroke="#A1421F" stroke-width="3.5" stroke-linecap="round" stroke-linejoin="round"/>
<polyline points="617,93.4 627.7,96.7 631.1,86.9" stroke="#A1421F" stroke-width="3.4"/>
<polyline points="620.25,100.7 630.1,103.9 634.2,93.85" stroke="#A1421F" stroke-width="3.4"/>
</g>
<text x="597.2" y="84.4" fill="#A1421F" font-size="21" font-weight="bold" style="font-family:'Liberation Sans',sans-serif">?</text>
<rect x="4" y="7" width="7" height="1" fill="#000"/>
<rect x="5" y="8" width="5" height="1" fill="#000"/>
<rect x="6" y="9" width="3" height="1" fill="#000"/>
<rect x="7" y="10" width="1" height="1" fill="#000"/>
<text transform="translate(16,12) scale(0.9420,1)" fill="#000" font-size="10">XAUUSD,H4</text>
<rect x="0" y="0" width="655" height="1" fill="#000"/>
<rect x="0" y="308" width="655" height="1" fill="#000"/>
<rect x="0" y="0" width="1" height="309" fill="#000"/>
<rect x="654" y="0" width="1" height="309" fill="#000"/>
<rect x="0" y="310" width="655" height="1" fill="#000"/>
<rect x="0" y="395" width="655" height="1" fill="#000"/>
<rect x="0" y="310" width="1" height="86" fill="#000"/>
<rect x="654" y="310" width="1" height="86" fill="#000"/>
<rect x="0" y="397" width="655" height="1" fill="#000"/>
<rect x="0" y="482" width="655" height="1" fill="#000"/>
<rect x="0" y="397" width="1" height="86" fill="#000"/>
<rect x="654" y="397" width="1" height="86" fill="#000"/>
<rect x="654" y="75" width="1" height="1" fill="#C0C0C0"/>
<rect x="655" y="8" width="2" height="1" fill="#000"/>
<text transform="translate(660.5,12) scale(0.9344,1)" fill="#000" font-size="9.6">3994.65</text>
<rect x="655" y="41" width="2" height="1" fill="#000"/>
<text transform="translate(660.5,45) scale(0.9344,1)" fill="#000" font-size="9.6">3903.90</text>
<rect x="655" y="74" width="2" height="1" fill="#000"/>
<text transform="translate(660.5,78) scale(0.9344,1)" fill="#000" font-size="9.6">3813.15</text>
<rect x="655" y="107" width="2" height="1" fill="#000"/>
<text transform="translate(660.5,111) scale(0.9344,1)" fill="#000" font-size="9.6">3722.40</text>
<rect x="655" y="140" width="2" height="1" fill="#000"/>
<text transform="translate(660.5,144) scale(0.9344,1)" fill="#000" font-size="9.6">3631.65</text>
<rect x="655" y="173" width="2" height="1" fill="#000"/>
<text transform="translate(660.5,177) scale(0.9344,1)" fill="#000" font-size="9.6">3540.90</text>
<rect x="655" y="206" width="2" height="1" fill="#000"/>
<text transform="translate(660.5,210) scale(0.9344,1)" fill="#000" font-size="9.6">3450.15</text>
<rect x="655" y="239" width="2" height="1" fill="#000"/>
<text transform="translate(660.5,243) scale(0.9344,1)" fill="#000" font-size="9.6">3359.40</text>
<rect x="655" y="272" width="2" height="1" fill="#000"/>
<text transform="translate(660.5,276) scale(0.9344,1)" fill="#000" font-size="9.6">3268.65</text>
<rect x="655" y="305" width="2" height="1" fill="#000"/>
<text transform="translate(660.5,309) scale(0.9344,1)" fill="#000" font-size="9.6">3177.90</text>
<rect x="656" y="69" width="41" height="11" fill="#000"/>
<rect x="655" y="74" width="1" height="1" fill="#000"/>
<text transform="translate(660.5,79) scale(0.9344,1)" fill="#fff" font-size="9.6">3806.94</text>
<rect x="656" y="11" width="41" height="11" fill="#FF0000"/>
<text transform="translate(660.2,20) scale(0.9344,1)" fill="#fff" font-size="9.6">3970.00</text>
<rect x="656" y="25" width="41" height="11" fill="#FF0000"/>
<text transform="translate(660.2,34) scale(0.9344,1)" fill="#fff" font-size="9.6">3930.00</text>
<rect x="656" y="43" width="41" height="11" fill="#FF0000"/>
<text transform="translate(660.2,52) scale(0.9344,1)" fill="#fff" font-size="9.6">3880.00</text>
<rect x="656" y="61" width="41" height="11" fill="#FF0000"/>
<text transform="translate(660.2,70) scale(0.9344,1)" fill="#fff" font-size="9.6">3830.00</text>
<rect x="656" y="75" width="41" height="11" fill="#FF0000"/>
<text transform="translate(660.2,84) scale(0.9344,1)" fill="#fff" font-size="9.6">3790.97</text>
<rect x="656" y="86" width="41" height="11" fill="#FF0000"/>
<text transform="translate(660.2,95) scale(0.9344,1)" fill="#fff" font-size="9.6">3760.00</text>
<rect x="656" y="100" width="41" height="11" fill="#FF0000"/>
<text transform="translate(660.2,109) scale(0.9344,1)" fill="#fff" font-size="9.6">3720.00</text>
<rect x="656" y="116" width="41" height="11" fill="#FF0000"/>
<text transform="translate(660.2,125) scale(0.9344,1)" fill="#fff" font-size="9.6">3674.79</text>
<rect x="656" y="139" width="41" height="11" fill="#FF0000"/>
<text transform="translate(660.2,148) scale(0.9344,1)" fill="#fff" font-size="9.6">3612.75</text>
<rect x="656" y="152" width="41" height="11" fill="#FF0000"/>
<text transform="translate(660.2,161) scale(0.9344,1)" fill="#fff" font-size="9.6">3575.00</text>
<rect x="656" y="161" width="41" height="11" fill="#FF0000"/>
<text transform="translate(660.2,170) scale(0.9344,1)" fill="#fff" font-size="9.6">3550.00</text>
<rect x="656" y="170" width="41" height="11" fill="#FF0000"/>
<text transform="translate(660.2,179) scale(0.9344,1)" fill="#fff" font-size="9.6">3525.00</text>
<rect x="656" y="179" width="41" height="11" fill="#FF0000"/>
<text transform="translate(660.2,188) scale(0.9344,1)" fill="#fff" font-size="9.6">3500.00</text>
<rect x="656" y="196" width="41" height="11" fill="#FF0000"/>
<text transform="translate(660.2,205) scale(0.9344,1)" fill="#fff" font-size="9.6">3451.01</text>
<rect x="656" y="210" width="41" height="11" fill="#FF0000"/>
<text transform="translate(660.2,219) scale(0.9344,1)" fill="#fff" font-size="9.6">3412.03</text>
<rect x="656" y="223" width="41" height="11" fill="#FF0000"/>
<text transform="translate(660.2,232) scale(0.9344,1)" fill="#fff" font-size="9.6">3374.91</text>
<rect x="656" y="232" width="41" height="11" fill="#FF0000"/>
<text transform="translate(660.2,241) scale(0.9344,1)" fill="#fff" font-size="9.6">3350.00</text>
<rect x="656" y="241" width="41" height="11" fill="#FF0000"/>
<text transform="translate(660.2,250) scale(0.9344,1)" fill="#fff" font-size="9.6">3325.00</text>
<rect x="656" y="250" width="41" height="11" fill="#FF0000"/>
<text transform="translate(660.2,259) scale(0.9344,1)" fill="#fff" font-size="9.6">3300.00</text>
<rect x="656" y="259" width="41" height="11" fill="#FF0000"/>
<text transform="translate(660.2,268) scale(0.9344,1)" fill="#fff" font-size="9.6">3275.00</text>
<rect x="656" y="270" width="41" height="11" fill="#FF0000"/>
<text transform="translate(660.2,279) scale(0.9344,1)" fill="#fff" font-size="9.6">3245.31</text>
<rect x="656" y="280" width="41" height="11" fill="#FF0000"/>
<text transform="translate(660.2,289) scale(0.9344,1)" fill="#fff" font-size="9.6">3215.00</text>
<rect x="656" y="288" width="41" height="11" fill="#FF0000"/>
<text transform="translate(660.2,297) scale(0.9344,1)" fill="#fff" font-size="9.6">3193.43</text>
<rect x="656" y="297" width="41" height="11" fill="#FF0000"/>
<text transform="translate(660.2,306) scale(0.9344,1)" fill="#fff" font-size="9.6">3167.62</text>
<text transform="translate(4.6,323) scale(0.9500,1)" fill="#000" font-size="10">MACD(5,34,4) 38.198 29.982</text>
<g clip-path="url(#cmacd)">
<rect x="0" y="369" width="3" height="16" fill="#008000"/>
<rect x="4" y="368" width="3" height="17" fill="#008000"/>
<rect x="8" y="369" width="3" height="16" fill="#008000"/>
<rect x="12" y="369" width="3" height="16" fill="#008000"/>
<rect x="16" y="368" width="3" height="17" fill="#008000"/>
<rect x="20" y="365" width="3" height="20" fill="#008000"/>
<rect x="24" y="365" width="3" height="20" fill="#008000"/>
<rect x="28" y="367" width="3" height="18" fill="#008000"/>
<rect x="32" y="369" width="3" height="16" fill="#008000"/>
<rect x="36" y="371" width="3" height="14" fill="#008000"/>
<rect x="40" y="368" width="3" height="17" fill="#008000"/>
<rect x="44" y="366" width="3" height="19" fill="#008000"/>
<rect x="48" y="367" width="3" height="18" fill="#008000"/>
<rect x="52" y="368" width="3" height="17" fill="#008000"/>
<rect x="56" y="366" width="3" height="19" fill="#008000"/>
<rect x="60" y="364" width="3" height="21" fill="#008000"/>
<rect x="64" y="360" width="3" height="25" fill="#008000"/>
<rect x="68" y="358" width="3" height="27" fill="#008000"/>
<rect x="72" y="360" width="3" height="25" fill="#008000"/>
<rect x="76" y="361" width="3" height="24" fill="#008000"/>
<rect x="80" y="362" width="3" height="23" fill="#008000"/>
<rect x="84" y="359" width="3" height="26" fill="#008000"/>
<rect x="88" y="354" width="3" height="31" fill="#008000"/>
<rect x="92" y="350" width="3" height="35" fill="#008000"/>
<rect x="96" y="346" width="3" height="39" fill="#008000"/>
<rect x="100" y="340" width="3" height="45" fill="#008000"/>
<rect x="104" y="338" width="3" height="47" fill="#008000"/>
<rect x="108" y="337" width="3" height="48" fill="#008000"/>
<rect x="112" y="336" width="3" height="49" fill="#008000"/>
<rect x="116" y="337" width="3" height="48" fill="#008000"/>
<rect x="120" y="334" width="3" height="51" fill="#008000"/>
<rect x="124" y="334" width="3" height="51" fill="#008000"/>
<rect x="128" y="338" width="3" height="47" fill="#008000"/>
<rect x="132" y="339" width="3" height="46" fill="#008000"/>
<rect x="136" y="331" width="3" height="54" fill="#008000"/>
<rect x="140" y="326" width="3" height="59" fill="#008000"/>
<rect x="144" y="323" width="3" height="62" fill="#008000"/>
<rect x="148" y="324" width="3" height="61" fill="#008000"/>
<rect x="152" y="325" width="3" height="60" fill="#008000"/>
<rect x="156" y="322" width="3" height="63" fill="#008000"/>
<rect x="160" y="316" width="3" height="69" fill="#008000"/>
<rect x="164" y="318" width="3" height="67" fill="#008000"/>
<rect x="168" y="323" width="3" height="62" fill="#008000"/>
<rect x="172" y="332" width="3" height="53" fill="#008000"/>
<rect x="176" y="336" width="3" height="49" fill="#008000"/>
<rect x="180" y="338" width="3" height="47" fill="#008000"/>
<rect x="184" y="341" width="3" height="44" fill="#008000"/>
<rect x="188" y="342" width="3" height="43" fill="#008000"/>
<rect x="192" y="343" width="3" height="42" fill="#008000"/>
<rect x="196" y="342" width="3" height="43" fill="#008000"/>
<rect x="200" y="344" width="3" height="41" fill="#008000"/>
<rect x="204" y="336" width="3" height="49" fill="#008000"/>
<rect x="208" y="332" width="3" height="53" fill="#008000"/>
<rect x="212" y="332" width="3" height="53" fill="#008000"/>
<rect x="216" y="333" width="3" height="52" fill="#008000"/>
<rect x="220" y="334" width="3" height="51" fill="#008000"/>
<rect x="224" y="330" width="3" height="55" fill="#008000"/>
<rect x="228" y="324" width="3" height="61" fill="#008000"/>
<rect x="232" y="321" width="3" height="64" fill="#008000"/>
<rect x="236" y="320" width="3" height="65" fill="#008000"/>
<rect x="240" y="318" width="3" height="67" fill="#008000"/>
<rect x="244" y="316" width="3" height="69" fill="#008000"/>
<rect x="248" y="317" width="3" height="68" fill="#008000"/>
<rect x="252" y="315" width="3" height="70" fill="#008000"/>
<rect x="256" y="321" width="3" height="64" fill="#008000"/>
<rect x="260" y="330" width="3" height="55" fill="#008000"/>
<rect x="264" y="336" width="3" height="49" fill="#008000"/>
<rect x="268" y="337" width="3" height="48" fill="#008000"/>
<rect x="272" y="336" width="3" height="49" fill="#008000"/>
<rect x="276" y="337.5" width="3" height="47.5" fill="#008000"/>
<rect x="280" y="340" width="3" height="45" fill="#008000"/>
<rect x="284" y="344" width="3" height="41" fill="#008000"/>
<rect x="288" y="347" width="3" height="38" fill="#008000"/>
<rect x="292" y="354" width="3" height="31" fill="#008000"/>
<rect x="296" y="359" width="3" height="26" fill="#008000"/>
<rect x="300" y="361" width="3" height="24" fill="#008000"/>
<rect x="304" y="362" width="3" height="23" fill="#008000"/>
<rect x="308" y="363" width="3" height="22" fill="#008000"/>
<rect x="312" y="361" width="3" height="24" fill="#008000"/>
<rect x="316" y="359" width="3" height="26" fill="#008000"/>
<rect x="320" y="359" width="3" height="26" fill="#008000"/>
<rect x="324" y="359" width="3" height="26" fill="#008000"/>
<rect x="328" y="360" width="3" height="25" fill="#008000"/>
<rect x="332" y="362" width="3" height="23" fill="#008000"/>
<rect x="336" y="366" width="3" height="19" fill="#008000"/>
<rect x="340" y="367" width="3" height="18" fill="#008000"/>
<rect x="344" y="368" width="3" height="17" fill="#008000"/>
<rect x="348" y="365" width="3" height="20" fill="#008000"/>
<rect x="352" y="358" width="3" height="27" fill="#008000"/>
<rect x="356" y="355" width="3" height="30" fill="#008000"/>
<rect x="360" y="354" width="3" height="31" fill="#008000"/>
<rect x="364" y="352" width="3" height="33" fill="#008000"/>
<rect x="368" y="348" width="3" height="37" fill="#008000"/>
<rect x="372" y="347" width="3" height="38" fill="#008000"/>
<rect x="376" y="349" width="3" height="36" fill="#008000"/>
<rect x="380" y="351" width="3" height="34" fill="#008000"/>
<rect x="384" y="355" width="3" height="30" fill="#008000"/>
<rect x="388" y="357" width="3" height="28" fill="#008000"/>
<rect x="392" y="363" width="3" height="22" fill="#008000"/>
<rect x="396" y="364" width="3" height="21" fill="#008000"/>
<rect x="400" y="363" width="3" height="22" fill="#008000"/>
<rect x="404" y="369" width="3" height="16" fill="#008000"/>
<rect x="408" y="374" width="3" height="11" fill="#008000"/>
<rect x="412" y="379" width="3" height="6" fill="#008000"/>
<rect x="416" y="377" width="3" height="8" fill="#008000"/>
<rect x="420" y="383" width="3" height="2" fill="#008000"/>
<rect x="424" y="385" width="3" height="3" fill="#008000"/>
<rect x="428" y="385" width="3" height="4" fill="#008000"/>
<rect x="432" y="385" width="3" height="7" fill="#008000"/>
<rect x="436" y="385" width="3" height="5" fill="#008000"/>
<rect x="440" y="385" width="3" height="2" fill="#008000"/>
<rect x="444" y="384" width="3" height="1" fill="#008000"/>
<rect x="448" y="378" width="3" height="7" fill="#008000"/>
<rect x="452" y="373" width="3" height="12" fill="#008000"/>
<rect x="456" y="370" width="3" height="15" fill="#008000"/>
<rect x="460" y="366" width="3" height="19" fill="#008000"/>
<rect x="464" y="357" width="3" height="28" fill="#008000"/>
<rect x="468" y="353" width="3" height="32" fill="#008000"/>
<rect x="472" y="345" width="3" height="40" fill="#008000"/>
<rect x="476" y="341" width="3" height="44" fill="#008000"/>
<rect x="480" y="337" width="3" height="48" fill="#008000"/>
<rect x="484" y="336" width="3" height="49" fill="#008000"/>
<rect x="488" y="329" width="3" height="56" fill="#008000"/>
<rect x="492" y="325" width="3" height="60" fill="#008000"/>
<rect x="496" y="326" width="3" height="59" fill="#008000"/>
<rect x="500" y="331" width="3" height="54" fill="#008000"/>
<rect x="504" y="336" width="3" height="49" fill="#008000"/>
<rect x="508" y="337" width="3" height="48" fill="#008000"/>
<rect x="512" y="339" width="3" height="46" fill="#008000"/>
<rect x="516" y="343" width="3" height="42" fill="#008000"/>
<rect x="520" y="353" width="3" height="32" fill="#008000"/>
<rect x="524" y="360" width="3" height="25" fill="#008000"/>
<rect x="528" y="364" width="3" height="21" fill="#008000"/>
<rect x="532" y="367" width="3" height="18" fill="#008000"/>
<rect x="536" y="364" width="3" height="21" fill="#008000"/>
<rect x="540" y="368" width="3" height="17" fill="#008000"/>
<rect x="544" y="370" width="3" height="15" fill="#008000"/>
<rect x="548" y="369" width="3" height="16" fill="#008000"/>
<rect x="552" y="371" width="3" height="14" fill="#008000"/>
<rect x="556" y="372" width="3" height="13" fill="#008000"/>
<rect x="560" y="371" width="3" height="14" fill="#008000"/>
<rect x="564" y="368" width="3" height="17" fill="#008000"/>
<rect x="568" y="361" width="3" height="24" fill="#008000"/>
<rect x="572" y="363" width="3" height="22" fill="#008000"/>
<rect x="576" y="360" width="3" height="25" fill="#008000"/>
<rect x="580" y="352" width="3" height="33" fill="#008000"/>
<rect x="255" y="316" width="1" height="1" fill="#FF00FF"/>
<rect x="251" y="317" width="1" height="1" fill="#FF00FF"/>
<rect x="256" y="317" width="2" height="1" fill="#FF00FF"/>
<rect x="249" y="318" width="2" height="1" fill="#FF00FF"/>
<rect x="245" y="319" width="1" height="1" fill="#FF00FF"/>
<rect x="168" y="320" width="3" height="1" fill="#FF00FF"/>
<rect x="243" y="320" width="2" height="1" fill="#FF00FF"/>
<rect x="163" y="321" width="2" height="1" fill="#FF00FF"/>
<rect x="261" y="321" width="1" height="1" fill="#FF00FF"/>
<rect x="162" y="322" width="1" height="1" fill="#FF00FF"/>
<rect x="262" y="322" width="1" height="1" fill="#FF00FF"/>
<rect x="174" y="323" width="1" height="1" fill="#FF00FF"/>
<rect x="238" y="323" width="2" height="1" fill="#FF00FF"/>
<rect x="263" y="323" width="1" height="1" fill="#FF00FF"/>
<rect x="156" y="324" width="3" height="1" fill="#FF00FF"/>
<rect x="175" y="324" width="1" height="1" fill="#FF00FF"/>
<rect x="237" y="324" width="1" height="1" fill="#FF00FF"/>
<rect x="151" y="325" width="2" height="1" fill="#FF00FF"/>
<rect x="175" y="325" width="1" height="1" fill="#FF00FF"/>
<rect x="150" y="326" width="1" height="1" fill="#FF00FF"/>
<rect x="233" y="327" width="1" height="1" fill="#FF00FF"/>
<rect x="266" y="327" width="1" height="1" fill="#FF00FF"/>
<rect x="232" y="328" width="1" height="1" fill="#FF00FF"/>
<rect x="267" y="328" width="1" height="1" fill="#FF00FF"/>
<rect x="501" y="328" width="2" height="1" fill="#FF00FF"/>
<rect x="146" y="329" width="1" height="1" fill="#FF00FF"/>
<rect x="179" y="329" width="1" height="1" fill="#FF00FF"/>
<rect x="231" y="329" width="1" height="1" fill="#FF00FF"/>
<rect x="267" y="329" width="1" height="1" fill="#FF00FF"/>
<rect x="497" y="329" width="1" height="1" fill="#FF00FF"/>
<rect x="503" y="329" width="1" height="1" fill="#FF00FF"/>
<rect x="145" y="330" width="1" height="1" fill="#FF00FF"/>
<rect x="179" y="330" width="1" height="1" fill="#FF00FF"/>
<rect x="496" y="330" width="1" height="1" fill="#FF00FF"/>
<rect x="144" y="331" width="1" height="1" fill="#FF00FF"/>
<rect x="180" y="331" width="1" height="1" fill="#FF00FF"/>
<rect x="227" y="331" width="1" height="1" fill="#FF00FF"/>
<rect x="495" y="331" width="1" height="1" fill="#FF00FF"/>
<rect x="507" y="331" width="2" height="1" fill="#FF00FF"/>
<rect x="225" y="332" width="2" height="1" fill="#FF00FF"/>
<rect x="509" y="332" width="1" height="1" fill="#FF00FF"/>
<rect x="219" y="333" width="3" height="1" fill="#FF00FF"/>
<rect x="271" y="333" width="1" height="1" fill="#FF00FF"/>
<rect x="272" y="334" width="1" height="1" fill="#FF00FF"/>
<rect x="491" y="334" width="1" height="1" fill="#FF00FF"/>
<rect x="126" y="335" width="2" height="1" fill="#FF00FF"/>
<rect x="139" y="335" width="2" height="1" fill="#FF00FF"/>
<rect x="183" y="335" width="1" height="1" fill="#FF00FF"/>
<rect x="214" y="335" width="2" height="1" fill="#FF00FF"/>
<rect x="273" y="335" width="1" height="1" fill="#FF00FF"/>
<rect x="490" y="335" width="1" height="1" fill="#FF00FF"/>
<rect x="120" y="336" width="3" height="1" fill="#FF00FF"/>
<rect x="128" y="336" width="1" height="1" fill="#FF00FF"/>
<rect x="132" y="336" width="3" height="1" fill="#FF00FF"/>
<rect x="138" y="336" width="1" height="1" fill="#FF00FF"/>
<rect x="184" y="336" width="1" height="1" fill="#FF00FF"/>
<rect x="213" y="336" width="1" height="1" fill="#FF00FF"/>
<rect x="489" y="336" width="1" height="1" fill="#FF00FF"/>
<rect x="513" y="336" width="1" height="1" fill="#FF00FF"/>
<rect x="116" y="337" width="1" height="1" fill="#FF00FF"/>
<rect x="185" y="337" width="1" height="1" fill="#FF00FF"/>
<rect x="277" y="337" width="3" height="1" fill="#FF00FF"/>
<rect x="514" y="337" width="2" height="1" fill="#FF00FF"/>
<rect x="114" y="338" width="2" height="1" fill="#FF00FF"/>
<rect x="209" y="338" width="1" height="1" fill="#FF00FF"/>
<rect x="283" y="338" width="1" height="1" fill="#FF00FF"/>
<rect x="189" y="339" width="2" height="1" fill="#FF00FF"/>
<rect x="208" y="339" width="1" height="1" fill="#FF00FF"/>
<rect x="284" y="339" width="2" height="1" fill="#FF00FF"/>
<rect x="109" y="340" width="2" height="1" fill="#FF00FF"/>
<rect x="191" y="340" width="1" height="1" fill="#FF00FF"/>
<rect x="207" y="340" width="1" height="1" fill="#FF00FF"/>
<rect x="485" y="340" width="1" height="1" fill="#FF00FF"/>
<rect x="108" y="341" width="1" height="1" fill="#FF00FF"/>
<rect x="195" y="341" width="1" height="1" fill="#FF00FF"/>
<rect x="484" y="341" width="1" height="1" fill="#FF00FF"/>
<rect x="519" y="341" width="1" height="1" fill="#FF00FF"/>
<rect x="196" y="342" width="2" height="1" fill="#FF00FF"/>
<rect x="203" y="342" width="1" height="1" fill="#FF00FF"/>
<rect x="289" y="342" width="1" height="1" fill="#FF00FF"/>
<rect x="483" y="342" width="1" height="1" fill="#FF00FF"/>
<rect x="520" y="342" width="1" height="1" fill="#FF00FF"/>
<rect x="201" y="343" width="2" height="1" fill="#FF00FF"/>
<rect x="290" y="343" width="1" height="1" fill="#FF00FF"/>
<rect x="521" y="343" width="1" height="1" fill="#FF00FF"/>
<rect x="291" y="344" width="1" height="1" fill="#FF00FF"/>
<rect x="104" y="345" width="1" height="1" fill="#FF00FF"/>
<rect x="103" y="346" width="1" height="1" fill="#FF00FF"/>
<rect x="479" y="346" width="1" height="1" fill="#FF00FF"/>
<rect x="102" y="347" width="1" height="1" fill="#FF00FF"/>
<rect x="479" y="347" width="1" height="1" fill="#FF00FF"/>
<rect x="524" y="347" width="1" height="1" fill="#FF00FF"/>
<rect x="295" y="348" width="1" height="1" fill="#FF00FF"/>
<rect x="478" y="348" width="1" height="1" fill="#FF00FF"/>
<rect x="524" y="348" width="1" height="1" fill="#FF00FF"/>
<rect x="295" y="349" width="1" height="1" fill="#FF00FF"/>
<rect x="378" y="349" width="3" height="1" fill="#FF00FF"/>
<rect x="525" y="349" width="1" height="1" fill="#FF00FF"/>
<rect x="296" y="350" width="1" height="1" fill="#FF00FF"/>
<rect x="373" y="350" width="2" height="1" fill="#FF00FF"/>
<rect x="384" y="350" width="2" height="1" fill="#FF00FF"/>
<rect x="98" y="351" width="1" height="1" fill="#FF00FF"/>
<rect x="372" y="351" width="1" height="1" fill="#FF00FF"/>
<rect x="386" y="351" width="1" height="1" fill="#FF00FF"/>
<rect x="97" y="352" width="1" height="1" fill="#FF00FF"/>
<rect x="475" y="352" width="1" height="1" fill="#FF00FF"/>
<rect x="96" y="353" width="1" height="1" fill="#FF00FF"/>
<rect x="368" y="353" width="1" height="1" fill="#FF00FF"/>
<rect x="474" y="353" width="1" height="1" fill="#FF00FF"/>
<rect x="528" y="353" width="1" height="1" fill="#FF00FF"/>
<rect x="300" y="354" width="1" height="1" fill="#FF00FF"/>
<rect x="366" y="354" width="2" height="1" fill="#FF00FF"/>
<rect x="390" y="354" width="2" height="1" fill="#FF00FF"/>
<rect x="474" y="354" width="1" height="1" fill="#FF00FF"/>
<rect x="528" y="354" width="1" height="1" fill="#FF00FF"/>
<rect x="301" y="355" width="1" height="1" fill="#FF00FF"/>
<rect x="392" y="355" width="1" height="1" fill="#FF00FF"/>
<rect x="529" y="355" width="1" height="1" fill="#FF00FF"/>
<rect x="302" y="356" width="1" height="1" fill="#FF00FF"/>
<rect x="92" y="357" width="1" height="1" fill="#FF00FF"/>
<rect x="362" y="357" width="1" height="1" fill="#FF00FF"/>
<rect x="90" y="358" width="2" height="1" fill="#FF00FF"/>
<rect x="361" y="358" width="1" height="1" fill="#FF00FF"/>
<rect x="471" y="358" width="1" height="1" fill="#FF00FF"/>
<rect x="306" y="359" width="1" height="1" fill="#FF00FF"/>
<rect x="330" y="359" width="2" height="1" fill="#FF00FF"/>
<rect x="360" y="359" width="1" height="1" fill="#FF00FF"/>
<rect x="396" y="359" width="1" height="1" fill="#FF00FF"/>
<rect x="471" y="359" width="1" height="1" fill="#FF00FF"/>
<rect x="532" y="359" width="1" height="1" fill="#FF00FF"/>
<rect x="73" y="360" width="2" height="1" fill="#FF00FF"/>
<rect x="78" y="360" width="3" height="1" fill="#FF00FF"/>
<rect x="84" y="360" width="3" height="1" fill="#FF00FF"/>
<rect x="307" y="360" width="2" height="1" fill="#FF00FF"/>
<rect x="320" y="360" width="1" height="1" fill="#FF00FF"/>
<rect x="324" y="360" width="3" height="1" fill="#FF00FF"/>
<rect x="332" y="360" width="1" height="1" fill="#FF00FF"/>
<rect x="397" y="360" width="2" height="1" fill="#FF00FF"/>
<rect x="470" y="360" width="1" height="1" fill="#FF00FF"/>
<rect x="532" y="360" width="1" height="1" fill="#FF00FF"/>
<rect x="580" y="360" width="1" height="1" fill="#FF00FF"/>
<rect x="72" y="361" width="1" height="1" fill="#FF00FF"/>
<rect x="318" y="361" width="2" height="1" fill="#FF00FF"/>
<rect x="336" y="361" width="1" height="1" fill="#FF00FF"/>
<rect x="533" y="361" width="1" height="1" fill="#FF00FF"/>
<rect x="579" y="361" width="1" height="1" fill="#FF00FF"/>
<rect x="312" y="362" width="3" height="1" fill="#FF00FF"/>
<rect x="337" y="362" width="2" height="1" fill="#FF00FF"/>
<rect x="67" y="363" width="2" height="1" fill="#FF00FF"/>
<rect x="355" y="363" width="2" height="1" fill="#FF00FF"/>
<rect x="402" y="363" width="2" height="1" fill="#FF00FF"/>
<rect x="66" y="364" width="1" height="1" fill="#FF00FF"/>
<rect x="342" y="364" width="1" height="1" fill="#FF00FF"/>
<rect x="354" y="364" width="1" height="1" fill="#FF00FF"/>
<rect x="404" y="364" width="1" height="1" fill="#FF00FF"/>
<rect x="467" y="364" width="1" height="1" fill="#FF00FF"/>
<rect x="537" y="364" width="2" height="1" fill="#FF00FF"/>
<rect x="343" y="365" width="2" height="1" fill="#FF00FF"/>
<rect x="466" y="365" width="1" height="1" fill="#FF00FF"/>
<rect x="539" y="365" width="1" height="1" fill="#FF00FF"/>
<rect x="574" y="365" width="2" height="1" fill="#FF00FF"/>
<rect x="30" y="366" width="3" height="1" fill="#FF00FF"/>
<rect x="60" y="366" width="3" height="1" fill="#FF00FF"/>
<rect x="348" y="366" width="3" height="1" fill="#FF00FF"/>
<rect x="465" y="366" width="1" height="1" fill="#FF00FF"/>
<rect x="543" y="366" width="1" height="1" fill="#FF00FF"/>
<rect x="573" y="366" width="1" height="1" fill="#FF00FF"/>
<rect x="24" y="367" width="3" height="1" fill="#FF00FF"/>
<rect x="36" y="367" width="1" height="1" fill="#FF00FF"/>
<rect x="54" y="367" width="3" height="1" fill="#FF00FF"/>
<rect x="408" y="367" width="1" height="1" fill="#FF00FF"/>
<rect x="544" y="367" width="2" height="1" fill="#FF00FF"/>
<rect x="18" y="368" width="3" height="1" fill="#FF00FF"/>
<rect x="37" y="368" width="2" height="1" fill="#FF00FF"/>
<rect x="44" y="368" width="1" height="1" fill="#FF00FF"/>
<rect x="48" y="368" width="3" height="1" fill="#FF00FF"/>
<rect x="409" y="368" width="1" height="1" fill="#FF00FF"/>
<rect x="549" y="368" width="2" height="1" fill="#FF00FF"/>
<rect x="569" y="368" width="1" height="1" fill="#FF00FF"/>
<rect x="6" y="369" width="2" height="1" fill="#FF00FF"/>
<rect x="12" y="369" width="3" height="1" fill="#FF00FF"/>
<rect x="42" y="369" width="2" height="1" fill="#FF00FF"/>
<rect x="410" y="369" width="1" height="1" fill="#FF00FF"/>
<rect x="551" y="369" width="1" height="1" fill="#FF00FF"/>
<rect x="567" y="369" width="2" height="1" fill="#FF00FF"/>
<rect x="1" y="370" width="2" height="1" fill="#FF00FF"/>
<rect x="8" y="370" width="1" height="1" fill="#FF00FF"/>
<rect x="462" y="370" width="1" height="1" fill="#FF00FF"/>
<rect x="555" y="370" width="3" height="1" fill="#FF00FF"/>
<rect x="462" y="371" width="1" height="1" fill="#FF00FF"/>
<rect x="561" y="371" width="3" height="1" fill="#FF00FF"/>
<rect x="414" y="372" width="1" height="1" fill="#FF00FF"/>
<rect x="461" y="372" width="1" height="1" fill="#FF00FF"/>
<rect x="415" y="373" width="1" height="1" fill="#FF00FF"/>
<rect x="416" y="374" width="1" height="1" fill="#FF00FF"/>
<rect x="457" y="376" width="1" height="1" fill="#FF00FF"/>
<rect x="420" y="377" width="1" height="1" fill="#FF00FF"/>
<rect x="456" y="377" width="1" height="1" fill="#FF00FF"/>
<rect x="421" y="378" width="1" height="1" fill="#FF00FF"/>
<rect x="455" y="378" width="1" height="1" fill="#FF00FF"/>
<rect x="422" y="379" width="1" height="1" fill="#FF00FF"/>
<rect x="426" y="382" width="1" height="1" fill="#FF00FF"/>
<rect x="451" y="382" width="1" height="1" fill="#FF00FF"/>
<rect x="427" y="383" width="2" height="1" fill="#FF00FF"/>
<rect x="451" y="383" width="1" height="1" fill="#FF00FF"/>
<rect x="450" y="384" width="1" height="1" fill="#FF00FF"/>
<rect x="432" y="387" width="1" height="1" fill="#FF00FF"/>
<rect x="446" y="387" width="1" height="1" fill="#FF00FF"/>
<rect x="433" y="388" width="2" height="1" fill="#FF00FF"/>
<rect x="445" y="388" width="1" height="1" fill="#FF00FF"/>
<rect x="444" y="389" width="1" height="1" fill="#FF00FF"/>
<rect x="438" y="390" width="3" height="1" fill="#FF00FF"/>
</g>
<rect x="655" y="312" width="2" height="1" fill="#000"/>
<text transform="translate(658,321) scale(0.9375,1)" fill="#000" font-size="9.6">85.2</text>
<rect x="655" y="385" width="2" height="1" fill="#000"/>
<text transform="translate(658,388) scale(0.9375,1)" fill="#000" font-size="9.6">0.00</text>
<rect x="655" y="394" width="2" height="1" fill="#000"/>
<text transform="translate(658.5,392) scale(0.9375,1)" fill="#000" font-size="9.6">-11.526</text>
<text transform="translate(5.2,410) scale(0.9180,1)" fill="#000" font-size="10">Stoch(5,3,3) 78.4170 77.4531</text>
<line x1="1" y1="415.5" x2="654" y2="415.5" stroke="#FF0000" stroke-width="1" stroke-dasharray="18,6" stroke-dashoffset="-1"/>
<line x1="1" y1="465.5" x2="654" y2="465.5" stroke="#FF0000" stroke-width="1" stroke-dasharray="18,6" stroke-dashoffset="-1"/>
<g clip-path="url(#cst)">
<rect x="457" y="402" width="1" height="1" fill="#FF00FF"/>
<rect x="456" y="403" width="1" height="1" fill="#FF00FF"/>
<rect x="461" y="403" width="3" height="1" fill="#FF00FF"/>
<rect x="480" y="403" width="2" height="1" fill="#FF00FF"/>
<rect x="455" y="404" width="1" height="1" fill="#FF00FF"/>
<rect x="467" y="404" width="1" height="1" fill="#FF00FF"/>
<rect x="473" y="404" width="3" height="1" fill="#FF00FF"/>
<rect x="479" y="404" width="1" height="1" fill="#FF00FF"/>
<rect x="485" y="404" width="3" height="1" fill="#FF00FF"/>
<rect x="468" y="405" width="2" height="1" fill="#FF00FF"/>
<rect x="491" y="406" width="2" height="1" fill="#FF00FF"/>
<rect x="249" y="407" width="3" height="1" fill="#FF00FF"/>
<rect x="493" y="407" width="1" height="1" fill="#FF00FF"/>
<rect x="104" y="408" width="2" height="1" fill="#FF00FF"/>
<rect x="213" y="408" width="3" height="1" fill="#FF00FF"/>
<rect x="244" y="408" width="2" height="1" fill="#FF00FF"/>
<rect x="254" y="408" width="1" height="1" fill="#FF00FF"/>
<rect x="452" y="408" width="1" height="1" fill="#FF00FF"/>
<rect x="72" y="409" width="1" height="1" fill="#FF00FF"/>
<rect x="100" y="409" width="1" height="1" fill="#FF00FF"/>
<rect x="106" y="409" width="1" height="1" fill="#FF00FF"/>
<rect x="233" y="409" width="1" height="1" fill="#FF00FF"/>
<rect x="237" y="409" width="3" height="1" fill="#FF00FF"/>
<rect x="243" y="409" width="1" height="1" fill="#FF00FF"/>
<rect x="254" y="409" width="1" height="1" fill="#FF00FF"/>
<rect x="369" y="409" width="3" height="1" fill="#FF00FF"/>
<rect x="375" y="409" width="1" height="1" fill="#FF00FF"/>
<rect x="452" y="409" width="1" height="1" fill="#FF00FF"/>
<rect x="497" y="409" width="1" height="1" fill="#FF00FF"/>
<rect x="70" y="410" width="2" height="1" fill="#FF00FF"/>
<rect x="98" y="410" width="2" height="1" fill="#FF00FF"/>
<rect x="150" y="410" width="3" height="1" fill="#FF00FF"/>
<rect x="209" y="410" width="1" height="1" fill="#FF00FF"/>
<rect x="219" y="410" width="2" height="1" fill="#FF00FF"/>
<rect x="231" y="410" width="2" height="1" fill="#FF00FF"/>
<rect x="255" y="410" width="1" height="1" fill="#FF00FF"/>
<rect x="364" y="410" width="2" height="1" fill="#FF00FF"/>
<rect x="376" y="410" width="2" height="1" fill="#FF00FF"/>
<rect x="452" y="410" width="1" height="1" fill="#FF00FF"/>
<rect x="498" y="410" width="1" height="1" fill="#FF00FF"/>
<rect x="208" y="411" width="1" height="1" fill="#FF00FF"/>
<rect x="221" y="411" width="1" height="1" fill="#FF00FF"/>
<rect x="363" y="411" width="1" height="1" fill="#FF00FF"/>
<rect x="499" y="411" width="1" height="1" fill="#FF00FF"/>
<rect x="75" y="412" width="1" height="1" fill="#FF00FF"/>
<rect x="110" y="412" width="1" height="1" fill="#FF00FF"/>
<rect x="207" y="412" width="1" height="1" fill="#FF00FF"/>
<rect x="225" y="412" width="3" height="1" fill="#FF00FF"/>
<rect x="324" y="412" width="1" height="1" fill="#FF00FF"/>
<rect x="67" y="413" width="1" height="1" fill="#FF00FF"/>
<rect x="76" y="413" width="1" height="1" fill="#FF00FF"/>
<rect x="111" y="413" width="1" height="1" fill="#FF00FF"/>
<rect x="147" y="413" width="1" height="1" fill="#FF00FF"/>
<rect x="156" y="413" width="1" height="1" fill="#FF00FF"/>
<rect x="322" y="413" width="2" height="1" fill="#FF00FF"/>
<rect x="360" y="413" width="1" height="1" fill="#FF00FF"/>
<rect x="66" y="414" width="1" height="1" fill="#FF00FF"/>
<rect x="76" y="414" width="1" height="1" fill="#FF00FF"/>
<rect x="95" y="414" width="1" height="1" fill="#FF00FF"/>
<rect x="111" y="414" width="1" height="1" fill="#FF00FF"/>
<rect x="146" y="414" width="1" height="1" fill="#FF00FF"/>
<rect x="157" y="414" width="2" height="1" fill="#FF00FF"/>
<rect x="162" y="414" width="3" height="1" fill="#FF00FF"/>
<rect x="257" y="414" width="1" height="1" fill="#FF00FF"/>
<rect x="359" y="414" width="1" height="1" fill="#FF00FF"/>
<rect x="379" y="414" width="1" height="1" fill="#FF00FF"/>
<rect x="451" y="414" width="1" height="1" fill="#FF00FF"/>
<rect x="577" y="414" width="1" height="1" fill="#FF00FF"/>
<rect x="66" y="415" width="1" height="1" fill="#FF00FF"/>
<rect x="95" y="415" width="1" height="1" fill="#FF00FF"/>
<rect x="146" y="415" width="1" height="1" fill="#FF00FF"/>
<rect x="257" y="415" width="1" height="1" fill="#FF00FF"/>
<rect x="328" y="415" width="1" height="1" fill="#FF00FF"/>
<rect x="358" y="415" width="1" height="1" fill="#FF00FF"/>
<rect x="379" y="415" width="1" height="1" fill="#FF00FF"/>
<rect x="450" y="415" width="1" height="1" fill="#FF00FF"/>
<rect x="501" y="415" width="1" height="1" fill="#FF00FF"/>
<rect x="575" y="415" width="2" height="1" fill="#FF00FF"/>
<rect x="94" y="416" width="1" height="1" fill="#FF00FF"/>
<rect x="203" y="416" width="1" height="1" fill="#FF00FF"/>
<rect x="258" y="416" width="1" height="1" fill="#FF00FF"/>
<rect x="319" y="416" width="1" height="1" fill="#FF00FF"/>
<rect x="329" y="416" width="1" height="1" fill="#FF00FF"/>
<rect x="380" y="416" width="1" height="1" fill="#FF00FF"/>
<rect x="450" y="416" width="1" height="1" fill="#FF00FF"/>
<rect x="502" y="416" width="1" height="1" fill="#FF00FF"/>
<rect x="25" y="417" width="3" height="1" fill="#FF00FF"/>
<rect x="168" y="417" width="1" height="1" fill="#FF00FF"/>
<rect x="203" y="417" width="1" height="1" fill="#FF00FF"/>
<rect x="319" y="417" width="1" height="1" fill="#FF00FF"/>
<rect x="330" y="417" width="1" height="1" fill="#FF00FF"/>
<rect x="502" y="417" width="1" height="1" fill="#FF00FF"/>
<rect x="30" y="418" width="1" height="1" fill="#FF00FF"/>
<rect x="78" y="418" width="1" height="1" fill="#FF00FF"/>
<rect x="115" y="418" width="1" height="1" fill="#FF00FF"/>
<rect x="169" y="418" width="1" height="1" fill="#FF00FF"/>
<rect x="202" y="418" width="1" height="1" fill="#FF00FF"/>
<rect x="318" y="418" width="1" height="1" fill="#FF00FF"/>
<rect x="572" y="418" width="1" height="1" fill="#FF00FF"/>
<rect x="30" y="419" width="1" height="1" fill="#FF00FF"/>
<rect x="63" y="419" width="1" height="1" fill="#FF00FF"/>
<rect x="79" y="419" width="1" height="1" fill="#FF00FF"/>
<rect x="116" y="419" width="1" height="1" fill="#FF00FF"/>
<rect x="144" y="419" width="1" height="1" fill="#FF00FF"/>
<rect x="169" y="419" width="1" height="1" fill="#FF00FF"/>
<rect x="356" y="419" width="1" height="1" fill="#FF00FF"/>
<rect x="571" y="419" width="1" height="1" fill="#FF00FF"/>
<rect x="31" y="420" width="1" height="1" fill="#FF00FF"/>
<rect x="63" y="420" width="1" height="1" fill="#FF00FF"/>
<rect x="79" y="420" width="1" height="1" fill="#FF00FF"/>
<rect x="92" y="420" width="1" height="1" fill="#FF00FF"/>
<rect x="117" y="420" width="1" height="1" fill="#FF00FF"/>
<rect x="144" y="420" width="1" height="1" fill="#FF00FF"/>
<rect x="259" y="420" width="1" height="1" fill="#FF00FF"/>
<rect x="356" y="420" width="1" height="1" fill="#FF00FF"/>
<rect x="382" y="420" width="1" height="1" fill="#FF00FF"/>
<rect x="449" y="420" width="1" height="1" fill="#FF00FF"/>
<rect x="570" y="420" width="1" height="1" fill="#FF00FF"/>
<rect x="21" y="421" width="1" height="1" fill="#FF00FF"/>
<rect x="62" y="421" width="1" height="1" fill="#FF00FF"/>
<rect x="92" y="421" width="1" height="1" fill="#FF00FF"/>
<rect x="143" y="421" width="1" height="1" fill="#FF00FF"/>
<rect x="259" y="421" width="1" height="1" fill="#FF00FF"/>
<rect x="332" y="421" width="1" height="1" fill="#FF00FF"/>
<rect x="356" y="421" width="1" height="1" fill="#FF00FF"/>
<rect x="382" y="421" width="1" height="1" fill="#FF00FF"/>
<rect x="448" y="421" width="1" height="1" fill="#FF00FF"/>
<rect x="504" y="421" width="1" height="1" fill="#FF00FF"/>
<rect x="20" y="422" width="1" height="1" fill="#FF00FF"/>
<rect x="92" y="422" width="1" height="1" fill="#FF00FF"/>
<rect x="121" y="422" width="2" height="1" fill="#FF00FF"/>
<rect x="199" y="422" width="1" height="1" fill="#FF00FF"/>
<rect x="259" y="422" width="1" height="1" fill="#FF00FF"/>
<rect x="316" y="422" width="1" height="1" fill="#FF00FF"/>
<rect x="333" y="422" width="1" height="1" fill="#FF00FF"/>
<rect x="382" y="422" width="1" height="1" fill="#FF00FF"/>
<rect x="448" y="422" width="1" height="1" fill="#FF00FF"/>
<rect x="504" y="422" width="1" height="1" fill="#FF00FF"/>
<rect x="19" y="423" width="1" height="1" fill="#FF00FF"/>
<rect x="123" y="423" width="1" height="1" fill="#FF00FF"/>
<rect x="171" y="423" width="1" height="1" fill="#FF00FF"/>
<rect x="198" y="423" width="1" height="1" fill="#FF00FF"/>
<rect x="316" y="423" width="1" height="1" fill="#FF00FF"/>
<rect x="333" y="423" width="1" height="1" fill="#FF00FF"/>
<rect x="505" y="423" width="1" height="1" fill="#FF00FF"/>
<rect x="33" y="424" width="1" height="1" fill="#FF00FF"/>
<rect x="53" y="424" width="1" height="1" fill="#FF00FF"/>
<rect x="57" y="424" width="3" height="1" fill="#FF00FF"/>
<rect x="81" y="424" width="1" height="1" fill="#FF00FF"/>
<rect x="171" y="424" width="1" height="1" fill="#FF00FF"/>
<rect x="198" y="424" width="1" height="1" fill="#FF00FF"/>
<rect x="316" y="424" width="1" height="1" fill="#FF00FF"/>
<rect x="568" y="424" width="1" height="1" fill="#FF00FF"/>
<rect x="33" y="425" width="1" height="1" fill="#FF00FF"/>
<rect x="52" y="425" width="1" height="1" fill="#FF00FF"/>
<rect x="81" y="425" width="1" height="1" fill="#FF00FF"/>
<rect x="142" y="425" width="1" height="1" fill="#FF00FF"/>
<rect x="171" y="425" width="1" height="1" fill="#FF00FF"/>
<rect x="354" y="425" width="1" height="1" fill="#FF00FF"/>
<rect x="568" y="425" width="1" height="1" fill="#FF00FF"/>
<rect x="13" y="426" width="3" height="1" fill="#FF00FF"/>
<rect x="34" y="426" width="1" height="1" fill="#FF00FF"/>
<rect x="51" y="426" width="1" height="1" fill="#FF00FF"/>
<rect x="82" y="426" width="1" height="1" fill="#FF00FF"/>
<rect x="90" y="426" width="1" height="1" fill="#FF00FF"/>
<rect x="127" y="426" width="1" height="1" fill="#FF00FF"/>
<rect x="142" y="426" width="1" height="1" fill="#FF00FF"/>
<rect x="261" y="426" width="1" height="1" fill="#FF00FF"/>
<rect x="354" y="426" width="1" height="1" fill="#FF00FF"/>
<rect x="383" y="426" width="1" height="1" fill="#FF00FF"/>
<rect x="447" y="426" width="1" height="1" fill="#FF00FF"/>
<rect x="567" y="426" width="1" height="1" fill="#FF00FF"/>
<rect x="90" y="427" width="1" height="1" fill="#FF00FF"/>
<rect x="127" y="427" width="1" height="1" fill="#FF00FF"/>
<rect x="142" y="427" width="1" height="1" fill="#FF00FF"/>
<rect x="261" y="427" width="1" height="1" fill="#FF00FF"/>
<rect x="335" y="427" width="1" height="1" fill="#FF00FF"/>
<rect x="353" y="427" width="1" height="1" fill="#FF00FF"/>
<rect x="384" y="427" width="1" height="1" fill="#FF00FF"/>
<rect x="447" y="427" width="1" height="1" fill="#FF00FF"/>
<rect x="506" y="427" width="1" height="1" fill="#FF00FF"/>
<rect x="8" y="428" width="2" height="1" fill="#FF00FF"/>
<rect x="89" y="428" width="1" height="1" fill="#FF00FF"/>
<rect x="128" y="428" width="1" height="1" fill="#FF00FF"/>
<rect x="195" y="428" width="1" height="1" fill="#FF00FF"/>
<rect x="261" y="428" width="1" height="1" fill="#FF00FF"/>
<rect x="287" y="428" width="1" height="1" fill="#FF00FF"/>
<rect x="314" y="428" width="1" height="1" fill="#FF00FF"/>
<rect x="335" y="428" width="1" height="1" fill="#FF00FF"/>
<rect x="384" y="428" width="1" height="1" fill="#FF00FF"/>
<rect x="447" y="428" width="1" height="1" fill="#FF00FF"/>
<rect x="506" y="428" width="1" height="1" fill="#FF00FF"/>
<rect x="7" y="429" width="1" height="1" fill="#FF00FF"/>
<rect x="173" y="429" width="1" height="1" fill="#FF00FF"/>
<rect x="195" y="429" width="1" height="1" fill="#FF00FF"/>
<rect x="284" y="429" width="1" height="1" fill="#FF00FF"/>
<rect x="288" y="429" width="1" height="1" fill="#FF00FF"/>
<rect x="314" y="429" width="1" height="1" fill="#FF00FF"/>
<rect x="336" y="429" width="1" height="1" fill="#FF00FF"/>
<rect x="507" y="429" width="1" height="1" fill="#FF00FF"/>
<rect x="1" y="430" width="3" height="1" fill="#FF00FF"/>
<rect x="35" y="430" width="1" height="1" fill="#FF00FF"/>
<rect x="49" y="430" width="1" height="1" fill="#FF00FF"/>
<rect x="84" y="430" width="1" height="1" fill="#FF00FF"/>
<rect x="173" y="430" width="1" height="1" fill="#FF00FF"/>
<rect x="194" y="430" width="1" height="1" fill="#FF00FF"/>
<rect x="283" y="430" width="1" height="1" fill="#FF00FF"/>
<rect x="289" y="430" width="1" height="1" fill="#FF00FF"/>
<rect x="314" y="430" width="1" height="1" fill="#FF00FF"/>
<rect x="565" y="430" width="1" height="1" fill="#FF00FF"/>
<rect x="35" y="431" width="1" height="1" fill="#FF00FF"/>
<rect x="48" y="431" width="1" height="1" fill="#FF00FF"/>
<rect x="85" y="431" width="2" height="1" fill="#FF00FF"/>
<rect x="140" y="431" width="1" height="1" fill="#FF00FF"/>
<rect x="173" y="431" width="1" height="1" fill="#FF00FF"/>
<rect x="282" y="431" width="1" height="1" fill="#FF00FF"/>
<rect x="352" y="431" width="1" height="1" fill="#FF00FF"/>
<rect x="565" y="431" width="1" height="1" fill="#FF00FF"/>
<rect x="35" y="432" width="1" height="1" fill="#FF00FF"/>
<rect x="48" y="432" width="1" height="1" fill="#FF00FF"/>
<rect x="131" y="432" width="1" height="1" fill="#FF00FF"/>
<rect x="139" y="432" width="1" height="1" fill="#FF00FF"/>
<rect x="262" y="432" width="1" height="1" fill="#FF00FF"/>
<rect x="351" y="432" width="1" height="1" fill="#FF00FF"/>
<rect x="385" y="432" width="1" height="1" fill="#FF00FF"/>
<rect x="446" y="432" width="1" height="1" fill="#FF00FF"/>
<rect x="564" y="432" width="1" height="1" fill="#FF00FF"/>
<rect x="131" y="433" width="1" height="1" fill="#FF00FF"/>
<rect x="139" y="433" width="1" height="1" fill="#FF00FF"/>
<rect x="262" y="433" width="1" height="1" fill="#FF00FF"/>
<rect x="337" y="433" width="1" height="1" fill="#FF00FF"/>
<rect x="351" y="433" width="1" height="1" fill="#FF00FF"/>
<rect x="385" y="433" width="1" height="1" fill="#FF00FF"/>
<rect x="445" y="433" width="1" height="1" fill="#FF00FF"/>
<rect x="508" y="433" width="1" height="1" fill="#FF00FF"/>
<rect x="132" y="434" width="1" height="1" fill="#FF00FF"/>
<rect x="192" y="434" width="1" height="1" fill="#FF00FF"/>
<rect x="262" y="434" width="1" height="1" fill="#FF00FF"/>
<rect x="290" y="434" width="1" height="1" fill="#FF00FF"/>
<rect x="312" y="434" width="1" height="1" fill="#FF00FF"/>
<rect x="338" y="434" width="1" height="1" fill="#FF00FF"/>
<rect x="386" y="434" width="1" height="1" fill="#FF00FF"/>
<rect x="445" y="434" width="1" height="1" fill="#FF00FF"/>
<rect x="509" y="434" width="1" height="1" fill="#FF00FF"/>
<rect x="175" y="435" width="1" height="1" fill="#FF00FF"/>
<rect x="191" y="435" width="1" height="1" fill="#FF00FF"/>
<rect x="280" y="435" width="1" height="1" fill="#FF00FF"/>
<rect x="290" y="435" width="1" height="1" fill="#FF00FF"/>
<rect x="312" y="435" width="1" height="1" fill="#FF00FF"/>
<rect x="338" y="435" width="1" height="1" fill="#FF00FF"/>
<rect x="509" y="435" width="1" height="1" fill="#FF00FF"/>
<rect x="36" y="436" width="1" height="1" fill="#FF00FF"/>
<rect x="47" y="436" width="1" height="1" fill="#FF00FF"/>
<rect x="135" y="436" width="1" height="1" fill="#FF00FF"/>
<rect x="175" y="436" width="1" height="1" fill="#FF00FF"/>
<rect x="191" y="436" width="1" height="1" fill="#FF00FF"/>
<rect x="280" y="436" width="1" height="1" fill="#FF00FF"/>
<rect x="291" y="436" width="1" height="1" fill="#FF00FF"/>
<rect x="312" y="436" width="1" height="1" fill="#FF00FF"/>
<rect x="560" y="436" width="2" height="1" fill="#FF00FF"/>
<rect x="37" y="437" width="1" height="1" fill="#FF00FF"/>
<rect x="46" y="437" width="1" height="1" fill="#FF00FF"/>
<rect x="136" y="437" width="2" height="1" fill="#FF00FF"/>
<rect x="175" y="437" width="1" height="1" fill="#FF00FF"/>
<rect x="280" y="437" width="1" height="1" fill="#FF00FF"/>
<rect x="349" y="437" width="1" height="1" fill="#FF00FF"/>
<rect x="549" y="437" width="1" height="1" fill="#FF00FF"/>
<rect x="553" y="437" width="3" height="1" fill="#FF00FF"/>
<rect x="559" y="437" width="1" height="1" fill="#FF00FF"/>
<rect x="37" y="438" width="1" height="1" fill="#FF00FF"/>
<rect x="46" y="438" width="1" height="1" fill="#FF00FF"/>
<rect x="263" y="438" width="1" height="1" fill="#FF00FF"/>
<rect x="349" y="438" width="1" height="1" fill="#FF00FF"/>
<rect x="387" y="438" width="1" height="1" fill="#FF00FF"/>
<rect x="444" y="438" width="1" height="1" fill="#FF00FF"/>
<rect x="547" y="438" width="2" height="1" fill="#FF00FF"/>
<rect x="263" y="439" width="1" height="1" fill="#FF00FF"/>
<rect x="340" y="439" width="1" height="1" fill="#FF00FF"/>
<rect x="348" y="439" width="1" height="1" fill="#FF00FF"/>
<rect x="387" y="439" width="1" height="1" fill="#FF00FF"/>
<rect x="444" y="439" width="1" height="1" fill="#FF00FF"/>
<rect x="511" y="439" width="1" height="1" fill="#FF00FF"/>
<rect x="189" y="440" width="1" height="1" fill="#FF00FF"/>
<rect x="263" y="440" width="1" height="1" fill="#FF00FF"/>
<rect x="292" y="440" width="1" height="1" fill="#FF00FF"/>
<rect x="311" y="440" width="1" height="1" fill="#FF00FF"/>
<rect x="341" y="440" width="1" height="1" fill="#FF00FF"/>
<rect x="387" y="440" width="1" height="1" fill="#FF00FF"/>
<rect x="443" y="440" width="1" height="1" fill="#FF00FF"/>
<rect x="511" y="440" width="1" height="1" fill="#FF00FF"/>
<rect x="176" y="441" width="1" height="1" fill="#FF00FF"/>
<rect x="188" y="441" width="1" height="1" fill="#FF00FF"/>
<rect x="279" y="441" width="1" height="1" fill="#FF00FF"/>
<rect x="292" y="441" width="1" height="1" fill="#FF00FF"/>
<rect x="310" y="441" width="1" height="1" fill="#FF00FF"/>
<rect x="341" y="441" width="1" height="1" fill="#FF00FF"/>
<rect x="512" y="441" width="1" height="1" fill="#FF00FF"/>
<rect x="544" y="441" width="1" height="1" fill="#FF00FF"/>
<rect x="39" y="442" width="1" height="1" fill="#FF00FF"/>
<rect x="44" y="442" width="1" height="1" fill="#FF00FF"/>
<rect x="177" y="442" width="1" height="1" fill="#FF00FF"/>
<rect x="188" y="442" width="1" height="1" fill="#FF00FF"/>
<rect x="279" y="442" width="1" height="1" fill="#FF00FF"/>
<rect x="292" y="442" width="1" height="1" fill="#FF00FF"/>
<rect x="310" y="442" width="1" height="1" fill="#FF00FF"/>
<rect x="543" y="442" width="1" height="1" fill="#FF00FF"/>
<rect x="39" y="443" width="1" height="1" fill="#FF00FF"/>
<rect x="43" y="443" width="1" height="1" fill="#FF00FF"/>
<rect x="177" y="443" width="1" height="1" fill="#FF00FF"/>
<rect x="278" y="443" width="1" height="1" fill="#FF00FF"/>
<rect x="346" y="443" width="1" height="1" fill="#FF00FF"/>
<rect x="542" y="443" width="1" height="1" fill="#FF00FF"/>
<rect x="40" y="444" width="1" height="1" fill="#FF00FF"/>
<rect x="43" y="444" width="1" height="1" fill="#FF00FF"/>
<rect x="264" y="444" width="1" height="1" fill="#FF00FF"/>
<rect x="346" y="444" width="1" height="1" fill="#FF00FF"/>
<rect x="388" y="444" width="1" height="1" fill="#FF00FF"/>
<rect x="442" y="444" width="1" height="1" fill="#FF00FF"/>
<rect x="514" y="444" width="3" height="1" fill="#FF00FF"/>
<rect x="264" y="445" width="1" height="1" fill="#FF00FF"/>
<rect x="345" y="445" width="1" height="1" fill="#FF00FF"/>
<rect x="388" y="445" width="1" height="1" fill="#FF00FF"/>
<rect x="442" y="445" width="1" height="1" fill="#FF00FF"/>
<rect x="186" y="446" width="1" height="1" fill="#FF00FF"/>
<rect x="265" y="446" width="1" height="1" fill="#FF00FF"/>
<rect x="294" y="446" width="1" height="1" fill="#FF00FF"/>
<rect x="309" y="446" width="1" height="1" fill="#FF00FF"/>
<rect x="389" y="446" width="1" height="1" fill="#FF00FF"/>
<rect x="441" y="446" width="1" height="1" fill="#FF00FF"/>
<rect x="179" y="447" width="1" height="1" fill="#FF00FF"/>
<rect x="185" y="447" width="1" height="1" fill="#FF00FF"/>
<rect x="277" y="447" width="1" height="1" fill="#FF00FF"/>
<rect x="294" y="447" width="1" height="1" fill="#FF00FF"/>
<rect x="309" y="447" width="1" height="1" fill="#FF00FF"/>
<rect x="408" y="447" width="2" height="1" fill="#FF00FF"/>
<rect x="519" y="447" width="1" height="1" fill="#FF00FF"/>
<rect x="540" y="447" width="1" height="1" fill="#FF00FF"/>
<rect x="180" y="448" width="1" height="1" fill="#FF00FF"/>
<rect x="184" y="448" width="1" height="1" fill="#FF00FF"/>
<rect x="277" y="448" width="1" height="1" fill="#FF00FF"/>
<rect x="294" y="448" width="1" height="1" fill="#FF00FF"/>
<rect x="308" y="448" width="1" height="1" fill="#FF00FF"/>
<rect x="407" y="448" width="1" height="1" fill="#FF00FF"/>
<rect x="520" y="448" width="1" height="1" fill="#FF00FF"/>
<rect x="539" y="448" width="1" height="1" fill="#FF00FF"/>
<rect x="180" y="449" width="1" height="1" fill="#FF00FF"/>
<rect x="277" y="449" width="1" height="1" fill="#FF00FF"/>
<rect x="521" y="449" width="1" height="1" fill="#FF00FF"/>
<rect x="539" y="449" width="1" height="1" fill="#FF00FF"/>
<rect x="266" y="450" width="1" height="1" fill="#FF00FF"/>
<rect x="390" y="450" width="1" height="1" fill="#FF00FF"/>
<rect x="404" y="450" width="1" height="1" fill="#FF00FF"/>
<rect x="439" y="450" width="1" height="1" fill="#FF00FF"/>
<rect x="266" y="451" width="1" height="1" fill="#FF00FF"/>
<rect x="390" y="451" width="1" height="1" fill="#FF00FF"/>
<rect x="403" y="451" width="1" height="1" fill="#FF00FF"/>
<rect x="411" y="451" width="1" height="1" fill="#FF00FF"/>
<rect x="439" y="451" width="1" height="1" fill="#FF00FF"/>
<rect x="266" y="452" width="1" height="1" fill="#FF00FF"/>
<rect x="295" y="452" width="1" height="1" fill="#FF00FF"/>
<rect x="307" y="452" width="1" height="1" fill="#FF00FF"/>
<rect x="391" y="452" width="1" height="1" fill="#FF00FF"/>
<rect x="403" y="452" width="1" height="1" fill="#FF00FF"/>
<rect x="412" y="452" width="1" height="1" fill="#FF00FF"/>
<rect x="438" y="452" width="1" height="1" fill="#FF00FF"/>
<rect x="275" y="453" width="1" height="1" fill="#FF00FF"/>
<rect x="296" y="453" width="1" height="1" fill="#FF00FF"/>
<rect x="307" y="453" width="1" height="1" fill="#FF00FF"/>
<rect x="412" y="453" width="1" height="1" fill="#FF00FF"/>
<rect x="524" y="453" width="1" height="1" fill="#FF00FF"/>
<rect x="537" y="453" width="1" height="1" fill="#FF00FF"/>
<rect x="275" y="454" width="1" height="1" fill="#FF00FF"/>
<rect x="296" y="454" width="1" height="1" fill="#FF00FF"/>
<rect x="306" y="454" width="1" height="1" fill="#FF00FF"/>
<rect x="524" y="454" width="1" height="1" fill="#FF00FF"/>
<rect x="536" y="454" width="1" height="1" fill="#FF00FF"/>
<rect x="275" y="455" width="1" height="1" fill="#FF00FF"/>
<rect x="435" y="455" width="1" height="1" fill="#FF00FF"/>
<rect x="525" y="455" width="1" height="1" fill="#FF00FF"/>
<rect x="536" y="455" width="1" height="1" fill="#FF00FF"/>
<rect x="268" y="456" width="1" height="1" fill="#FF00FF"/>
<rect x="392" y="456" width="1" height="1" fill="#FF00FF"/>
<rect x="401" y="456" width="1" height="1" fill="#FF00FF"/>
<rect x="433" y="456" width="2" height="1" fill="#FF00FF"/>
<rect x="268" y="457" width="1" height="1" fill="#FF00FF"/>
<rect x="392" y="457" width="1" height="1" fill="#FF00FF"/>
<rect x="400" y="457" width="1" height="1" fill="#FF00FF"/>
<rect x="415" y="457" width="1" height="1" fill="#FF00FF"/>
<rect x="427" y="457" width="3" height="1" fill="#FF00FF"/>
<rect x="269" y="458" width="1" height="1" fill="#FF00FF"/>
<rect x="297" y="458" width="1" height="1" fill="#FF00FF"/>
<rect x="305" y="458" width="1" height="1" fill="#FF00FF"/>
<rect x="392" y="458" width="1" height="1" fill="#FF00FF"/>
<rect x="400" y="458" width="1" height="1" fill="#FF00FF"/>
<rect x="416" y="458" width="1" height="1" fill="#FF00FF"/>
<rect x="273" y="459" width="1" height="1" fill="#FF00FF"/>
<rect x="298" y="459" width="1" height="1" fill="#FF00FF"/>
<rect x="304" y="459" width="1" height="1" fill="#FF00FF"/>
<rect x="417" y="459" width="1" height="1" fill="#FF00FF"/>
<rect x="423" y="459" width="1" height="1" fill="#FF00FF"/>
<rect x="527" y="459" width="1" height="1" fill="#FF00FF"/>
<rect x="534" y="459" width="1" height="1" fill="#FF00FF"/>
<rect x="272" y="460" width="2" height="1" fill="#FF00FF"/>
<rect x="298" y="460" width="1" height="1" fill="#FF00FF"/>
<rect x="304" y="460" width="1" height="1" fill="#FF00FF"/>
<rect x="422" y="460" width="1" height="1" fill="#FF00FF"/>
<rect x="528" y="460" width="1" height="1" fill="#FF00FF"/>
<rect x="533" y="460" width="1" height="1" fill="#FF00FF"/>
<rect x="395" y="461" width="2" height="1" fill="#FF00FF"/>
<rect x="421" y="461" width="1" height="1" fill="#FF00FF"/>
<rect x="528" y="461" width="1" height="1" fill="#FF00FF"/>
<rect x="532" y="461" width="1" height="1" fill="#FF00FF"/>
<rect x="397" y="462" width="1" height="1" fill="#FF00FF"/>
<rect x="300" y="464" width="1" height="1" fill="#FF00FF"/>
<rect x="302" y="464" width="1" height="1" fill="#FF00FF"/>
<rect x="301" y="465" width="1" height="1" fill="#FF00FF"/>
<polyline points="1,429.4 5,427.6 9,425.9 13,425.9 17,424.2 21,414.2 25,413.9 29,421.1 33,438.3 37,455.5 41,443.5 45,424.5 49,419.9 53,426.6 57,426.6 61,415.9 65,406 69,408 73,413.4 77,422.8 81,440 85,428.8 89,418.5 93,408.2 97,407 101,407.3 105,410.8 109,415.9 113,421.6 117,421.6 121,422.5 125,427.1 129,438.3 133,443.5 137,430.6 141,412.5 145,405.6 149,411.6 153,414.2 157,416.8 161,411.6 165,415 169,427.1 173,448.6 177,453.8 181,447.8 185,440 189,432.3 193,424.5 197,417.5 201,415.6 205,408.7 209,407 213,407.3 217,411.6 221,414.2 225,411.3 229,407.8 233,408.7 237,409.6 241,409 245,406.5 249,405.6 253,405.6 257,430 261,446 265,466.7 269,465 273,446.9 277,430.6 281,422.8 285,426.3 289,440.9 293,465 297,468.4 301,460.7 305,446 309,431.4 313,417.7 317,409.9 321,410 325,415 329,422 333,429.7 337,445.2 341,446.9 345,441.8 349,426.3 353,415.9 357,409 361,409.4 365,410.4 369,408.2 373,407 377,414.2 381,431.4 385,450.4 389,460 393,468.4 397,457.2 401,443.8 405,443.8 409,452 413,467.6 417,458.6 421,458.1 425,453.8 429,458.1 433,454.7 437,448.6 441,437.4 445,417.7 449,401.3 453,400.1 457,403.5 461,404.7 465,404.7 469,404.4 473,403.9 477,402.7 481,403 485,405.6 489,406.5 493,408.7 497,410.8 501,421.1 505,439.2 509,445.7 513,445.7 517,441.4 521,460.3 525,463.3 529,463.3 533,453.8 537,442.6 541,438.8 545,434.9 549,438.3 553,436.9 557,436.2 561,434 565,422.8 569,407.7 573,417.3 577,417.3 581,416.4" fill="none" stroke="#0000FF" stroke-width="2" />
</g>
<rect x="655" y="399" width="2" height="1" fill="#000"/>
<text transform="translate(657.5,408) scale(0.9375,1)" fill="#000" font-size="9.6">100</text>
<text transform="translate(657.5,419) scale(0.9375,1)" fill="#000" font-size="9.6">80</text>
<text transform="translate(657.5,469) scale(0.9375,1)" fill="#000" font-size="9.6">20</text>
<rect x="655" y="481" width="2" height="1" fill="#000"/>
<text transform="translate(657.5,479) scale(0.9375,1)" fill="#000" font-size="9.6">0</text>
<rect x="1" y="477" width="1" height="1" fill="#C8C8C8"/>
<rect x="1" y="478" width="2" height="1" fill="#C8C8C8"/>
<rect x="1" y="479" width="3" height="1" fill="#C8C8C8"/>
<rect x="1" y="480" width="4" height="1" fill="#C8C8C8"/>
<rect x="1" y="481" width="5" height="1" fill="#C8C8C8"/>
<rect x="1" y="483" width="1" height="3" fill="#000"/>
<text transform="translate(0.4,495) scale(0.9200,1)" fill="#000" font-size="10">26 Aug 2025</text>
<rect x="65" y="483" width="1" height="3" fill="#000"/>
<text transform="translate(64.4,495) scale(0.9200,1)" fill="#000" font-size="10">28 Aug 17:00</text>
<rect x="129" y="483" width="1" height="3" fill="#000"/>
<text transform="translate(128.4,495) scale(0.9200,1)" fill="#000" font-size="10">2 Sep 09:00</text>
<rect x="193" y="483" width="1" height="3" fill="#000"/>
<text transform="translate(192.4,495) scale(0.9200,1)" fill="#000" font-size="10">5 Sep 01:00</text>
<rect x="257" y="483" width="1" height="3" fill="#000"/>
<text transform="translate(256.4,495) scale(0.9200,1)" fill="#000" font-size="10">9 Sep 17:00</text>
<rect x="321" y="483" width="1" height="3" fill="#000"/>
<text transform="translate(320.4,495) scale(0.9200,1)" fill="#000" font-size="10">12 Sep 09:00</text>
<rect x="385" y="483" width="1" height="3" fill="#000"/>
<text transform="translate(384.4,495) scale(0.9200,1)" fill="#000" font-size="10">17 Sep 01:00</text>
<rect x="449" y="483" width="1" height="3" fill="#000"/>
<text transform="translate(448.4,495) scale(0.9200,1)" fill="#000" font-size="10">19 Sep 17:00</text>
<rect x="513" y="483" width="1" height="3" fill="#000"/>
<text transform="translate(512.4,495) scale(0.9200,1)" fill="#000" font-size="10">24 Sep 09:00</text>
<rect x="577" y="483" width="1" height="3" fill="#000"/>
<text transform="translate(576.4,495) scale(0.9200,1)" fill="#000" font-size="10">29 Sep 01:00</text>
</svg>
</body></html>
